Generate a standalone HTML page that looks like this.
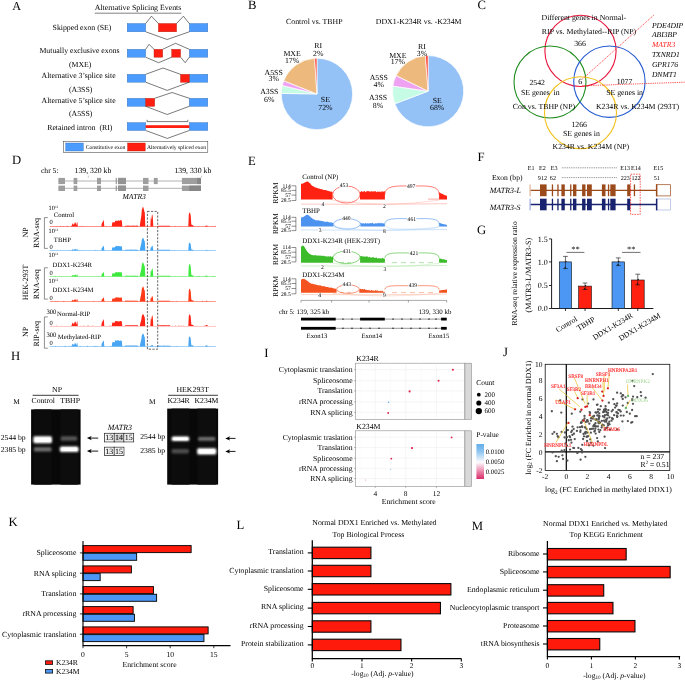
<!DOCTYPE html>
<html lang="en"><head><meta charset="utf-8"><title>Figure</title>
<style>
html,body{margin:0;padding:0;background:#fff;}
svg{display:block;will-change:transform;font-family:"Liberation Serif",serif;text-rendering:geometricPrecision;}
text{white-space:pre;}
</style></head><body>
<svg width="685" height="681" viewBox="0 0 685 681">
<rect x="0" y="0" width="685" height="681" fill="#fff"/>
<g id="panelA">
<text x="12.20" y="9.83" font-size="12.2">A</text>
<text x="138.00" y="9.59" font-size="7.85" text-anchor="middle">Alternative Splicing Events</text>
<polyline points="94.70,13.20 181.40,13.20" fill="none" stroke="#000" stroke-width="0.5"/>
<rect x="127.20" y="23.50" width="18.50" height="8.30" fill="#4c9bff" stroke="#3a6fb0" stroke-width="0.4"/>
<rect x="189.30" y="23.50" width="18.50" height="8.30" fill="#4c9bff" stroke="#3a6fb0" stroke-width="0.4"/>
<rect x="158.40" y="23.50" width="18.20" height="8.30" fill="#ff1e0f" stroke="#b02010" stroke-width="0.4"/>
<polyline points="145.70,23.50 151.50,16.20 158.40,23.50" fill="none" stroke="#222" stroke-width="0.6"/>
<polyline points="176.60,23.50 183.40,16.20 189.30,23.50" fill="none" stroke="#222" stroke-width="0.6"/>
<polyline points="145.70,31.80 167.20,39.50 189.30,31.80" fill="none" stroke="#222" stroke-width="0.6"/>
<text x="82.00" y="29.57" font-size="7.8" text-anchor="middle">Skipped exon (SE)</text>
<rect x="127.20" y="49.30" width="18.50" height="7.90" fill="#4c9bff" stroke="#3a6fb0" stroke-width="0.4"/>
<rect x="189.30" y="49.30" width="18.50" height="7.90" fill="#4c9bff" stroke="#3a6fb0" stroke-width="0.4"/>
<rect x="154.00" y="49.30" width="8.70" height="7.90" fill="#ff1e0f" stroke="#b02010" stroke-width="0.4"/>
<rect x="171.70" y="49.30" width="8.90" height="7.90" fill="#ff1e0f" stroke="#b02010" stroke-width="0.4"/>
<polyline points="145.70,49.30 149.10,44.30 154.00,49.30" fill="none" stroke="#222" stroke-width="0.6"/>
<polyline points="162.70,49.30 175.50,43.30 189.30,49.30" fill="none" stroke="#222" stroke-width="0.6"/>
<polyline points="145.70,57.20 158.60,62.70 171.70,57.20" fill="none" stroke="#222" stroke-width="0.6"/>
<polyline points="180.60,57.20 185.20,62.70 189.30,57.20" fill="none" stroke="#222" stroke-width="0.6"/>
<text x="79.50" y="53.27" font-size="7.8" text-anchor="middle">Mutually exclusive exons</text>
<text x="80.20" y="66.77" font-size="7.8" text-anchor="middle">(MXE)</text>
<rect x="127.20" y="74.30" width="18.50" height="7.90" fill="#4c9bff" stroke="#3a6fb0" stroke-width="0.4"/>
<rect x="189.30" y="74.30" width="18.50" height="7.90" fill="#4c9bff" stroke="#3a6fb0" stroke-width="0.4"/>
<rect x="180.50" y="74.30" width="8.80" height="7.90" fill="#ff1e0f" stroke="#b02010" stroke-width="0.4"/>
<polyline points="145.70,74.30 163.00,68.00 180.50,74.30" fill="none" stroke="#222" stroke-width="0.6"/>
<polyline points="145.70,82.20 167.20,90.40 189.30,82.20" fill="none" stroke="#222" stroke-width="0.6"/>
<text x="78.60" y="78.37" font-size="7.8" text-anchor="middle">Alternative 3’splice site</text>
<text x="80.70" y="91.87" font-size="7.8" text-anchor="middle">(A3SS)</text>
<rect x="127.20" y="98.30" width="18.50" height="8.00" fill="#4c9bff" stroke="#3a6fb0" stroke-width="0.4"/>
<rect x="189.30" y="98.30" width="18.50" height="8.00" fill="#4c9bff" stroke="#3a6fb0" stroke-width="0.4"/>
<rect x="145.70" y="98.30" width="9.00" height="8.00" fill="#ff1e0f" stroke="#b02010" stroke-width="0.4"/>
<polyline points="154.70,98.30 172.00,92.50 189.30,98.30" fill="none" stroke="#222" stroke-width="0.6"/>
<polyline points="145.70,106.30 167.20,114.50 189.30,106.30" fill="none" stroke="#222" stroke-width="0.6"/>
<text x="78.60" y="102.77" font-size="7.8" text-anchor="middle">Alternative 5’splice site</text>
<text x="80.70" y="115.57" font-size="7.8" text-anchor="middle">(A5SS)</text>
<rect x="127.20" y="122.60" width="18.50" height="7.90" fill="#4c9bff" stroke="#3a6fb0" stroke-width="0.4"/>
<rect x="189.30" y="122.60" width="18.50" height="7.90" fill="#4c9bff" stroke="#3a6fb0" stroke-width="0.4"/>
<rect x="145.70" y="125.20" width="43.60" height="2.80" fill="#ff1e0f"/>
<polyline points="147.10,119.80 147.10,121.60 187.80,121.60 187.80,119.80" fill="none" stroke="#222" stroke-width="0.6"/>
<polyline points="145.70,130.50 167.30,138.40 189.30,130.50" fill="none" stroke="#222" stroke-width="0.6"/>
<text x="79.80" y="129.77" font-size="7.8" text-anchor="middle" xml:space="preserve">Retained intron  (RI)</text>
<rect x="63.30" y="141.30" width="144.50" height="11.40" fill="#fff" stroke="#333" stroke-width="0.5"/>
<rect x="65.70" y="143.00" width="17.60" height="8.00" fill="#4c9bff" stroke="#3a6fb0" stroke-width="0.4"/>
<rect x="127.60" y="143.00" width="17.60" height="8.00" fill="#ff1e0f" stroke="#b02010" stroke-width="0.4"/>
<text x="85.70" y="149.05" font-size="5.6">Constitutive exon</text>
<text x="147.00" y="149.05" font-size="5.6">Alternatively spliced exon</text>
</g>
<g id="panelB">
<text x="248.00" y="8.89" font-size="12.7">B</text>
<text x="314.30" y="23.57" font-size="7.8" text-anchor="middle">Control vs. TBHP</text>
<text x="418.70" y="23.58" font-size="7.82" text-anchor="middle">DDX1-K234R vs. -K234M</text>
<path d="M316.95,93.95 L316.95,58.25 A35.7,35.7 0 1 1 281.25,93.45 Z" fill="#94c1f6" stroke="#fff" stroke-width="0.7"/>
<path d="M316.95,93.95 L281.25,93.45 A35.7,35.7 0 0 1 282.27,85.49 Z" fill="#c6fbe6" stroke="#fff" stroke-width="0.7"/>
<path d="M316.95,93.95 L282.27,85.49 A35.7,35.7 0 0 1 283.78,80.75 Z" fill="#efa2f1" stroke="#fff" stroke-width="0.7"/>
<path d="M316.95,93.95 L283.78,80.75 A35.7,35.7 0 0 1 314.65,58.32 Z" fill="#edb97c" stroke="#fff" stroke-width="0.7"/>
<path d="M316.95,93.95 L314.65,58.32 A35.7,35.7 0 0 1 316.95,58.25 Z" fill="#ff3a2e" stroke="#fff" stroke-width="0.7"/>
<path d="M428.10,91.20 L428.10,55.60 A35.6,35.6 0 1 1 394.80,103.78 Z" fill="#94c1f6" stroke="#fff" stroke-width="0.7"/>
<path d="M428.10,91.20 L394.80,103.78 A35.6,35.6 0 0 1 392.86,86.12 Z" fill="#c6fbe6" stroke="#fff" stroke-width="0.7"/>
<path d="M428.10,91.20 L392.86,86.12 A35.6,35.6 0 0 1 396.13,75.54 Z" fill="#efa2f1" stroke="#fff" stroke-width="0.7"/>
<path d="M428.10,91.20 L396.13,75.54 A35.6,35.6 0 0 1 425.43,55.70 Z" fill="#edb97c" stroke="#fff" stroke-width="0.7"/>
<path d="M428.10,91.20 L425.43,55.70 A35.6,35.6 0 0 1 428.10,55.60 Z" fill="#ff3a2e" stroke="#fff" stroke-width="0.7"/>
<text x="318.20" y="48.47" font-size="7.8" text-anchor="middle">RI</text>
<text x="318.20" y="55.67" font-size="7.8" text-anchor="middle">2%</text>
<text x="292.10" y="55.67" font-size="7.8" text-anchor="middle">MXE</text>
<text x="292.10" y="62.97" font-size="7.8" text-anchor="middle">17%</text>
<text x="273.70" y="75.27" font-size="7.8" text-anchor="middle">A5SS</text>
<text x="273.70" y="81.47" font-size="7.8" text-anchor="middle">3%</text>
<text x="269.30" y="93.67" font-size="7.8" text-anchor="middle">A3SS</text>
<text x="269.30" y="102.17" font-size="7.8" text-anchor="middle">6%</text>
<text x="325.40" y="101.97" font-size="7.8" text-anchor="middle">SE</text>
<text x="325.40" y="110.07" font-size="7.8" text-anchor="middle">72%</text>
<text x="422.00" y="49.27" font-size="7.8" text-anchor="middle">RI</text>
<text x="422.00" y="55.87" font-size="7.8" text-anchor="middle">3%</text>
<text x="397.80" y="57.77" font-size="7.8" text-anchor="middle">MXE</text>
<text x="397.80" y="64.27" font-size="7.8" text-anchor="middle">17%</text>
<text x="378.80" y="80.17" font-size="7.8" text-anchor="middle">A5SS</text>
<text x="378.80" y="86.67" font-size="7.8" text-anchor="middle">4%</text>
<text x="378.00" y="99.57" font-size="7.8" text-anchor="middle">A3SS</text>
<text x="378.00" y="108.37" font-size="7.8" text-anchor="middle">8%</text>
<text x="437.20" y="102.67" font-size="7.8" text-anchor="middle">SE</text>
<text x="437.20" y="110.07" font-size="7.8" text-anchor="middle">68%</text>
</g>
<g id="panelC">
<text x="477.50" y="8.79" font-size="12.7">C</text>
<circle cx="580.50" cy="50.90" r="35.60" fill="none" stroke="#e8163c" stroke-width="1.1"/>
<circle cx="550.00" cy="82.00" r="36.00" fill="none" stroke="#1e8c1e" stroke-width="1.1"/>
<circle cx="609.40" cy="81.70" r="35.70" fill="none" stroke="#2459d0" stroke-width="1.1"/>
<circle cx="580.50" cy="112.70" r="36.00" fill="none" stroke="#f2c21c" stroke-width="1.1"/>
<polyline points="582.30,79.10 654.30,14.70" fill="none" stroke="#ff2020" stroke-width="0.8" stroke-dasharray="1.2,1"/>
<polyline points="582.30,85.80 685.00,82.20" fill="none" stroke="#ff2020" stroke-width="0.8" stroke-dasharray="1.2,1"/>
<text x="583.80" y="20.37" font-size="7.8" text-anchor="middle">Different genes in Normal-</text>
<text x="589.00" y="33.87" font-size="7.8" text-anchor="middle">RIP vs. Methylated--RIP (NP)</text>
<text x="580.00" y="46.07" font-size="7.8" text-anchor="middle">366</text>
<text x="537.20" y="84.77" font-size="7.8" text-anchor="middle">2542</text>
<text x="540.30" y="94.57" font-size="7.8" text-anchor="middle" xml:space="preserve">SE genes  in</text>
<text x="544.00" y="108.97" font-size="7.8" text-anchor="middle">Con vs. TBHP (NP)</text>
<text x="580.20" y="84.07" font-size="7.8" text-anchor="middle">6</text>
<text x="624.60" y="84.07" font-size="7.8" text-anchor="middle">1077</text>
<text x="624.60" y="94.57" font-size="7.8" text-anchor="middle">SE genes in</text>
<text x="637.50" y="108.97" font-size="7.8" text-anchor="middle">K234R vs. K234M (293T)</text>
<text x="579.20" y="127.37" font-size="7.8" text-anchor="middle">1266</text>
<text x="581.40" y="135.97" font-size="7.8" text-anchor="middle">SE genes in</text>
<text x="590.90" y="149.07" font-size="7.8" text-anchor="middle">K234R vs. K234M (NP)</text>
<text x="651.90" y="27.61" font-size="7.6" font-style="italic">PDE4DIP</text>
<text x="651.90" y="37.11" font-size="7.6" font-style="italic">ABI3BP</text>
<text x="651.90" y="47.31" font-size="7.6" font-style="italic" fill="#ff2020">MATR3</text>
<text x="651.90" y="57.11" font-size="7.6" font-style="italic">TXNRD1</text>
<text x="651.90" y="66.91" font-size="7.6" font-style="italic">GPR176</text>
<text x="651.90" y="77.01" font-size="7.6" font-style="italic">DNMT1</text>
</g>
<g id="panelD">
<text x="12.00" y="164.19" font-size="12.7">D</text>
<text x="41.00" y="172.51" font-size="7.6">chr 5:</text>
<text x="74.50" y="172.56" font-size="7.77">139, 320 kb</text>
<text x="174.40" y="172.56" font-size="7.77">139, 330 kb</text>
<polyline points="88.30,175.60 88.30,177.60" fill="none" stroke="#888" stroke-width="0.5"/>
<polyline points="201.70,175.60 201.70,177.60" fill="none" stroke="#888" stroke-width="0.5"/>
<polyline points="58.40,181.00 201.00,181.00" fill="none" stroke="#b2b2b2" stroke-width="1.0"/>
<rect x="58.40" y="177.90" width="6.60" height="6.20" fill="#9e9e9e"/>
<rect x="73.60" y="177.90" width="3.70" height="6.20" fill="#9e9e9e"/>
<rect x="97.00" y="177.90" width="4.00" height="6.20" fill="#9e9e9e"/>
<rect x="118.00" y="177.90" width="7.90" height="6.20" fill="#9e9e9e"/>
<rect x="143.00" y="177.90" width="5.50" height="6.20" fill="#9e9e9e"/>
<rect x="153.80" y="177.90" width="3.90" height="6.20" fill="#9e9e9e"/>
<rect x="181.90" y="177.90" width="19.10" height="6.20" fill="#9e9e9e"/>
<rect x="115.70" y="177.90" width="1.10" height="6.20" fill="#8f8f8f"/>
<rect x="118.00" y="177.90" width="7.90" height="6.20" fill="#949494"/>
<rect x="197.10" y="177.90" width="3.90" height="6.20" fill="#878787"/>
<polyline points="58.40,188.30 201.00,188.30" fill="none" stroke="#b2b2b2" stroke-width="1.0"/>
<rect x="58.40" y="185.60" width="6.60" height="5.40" fill="#9e9e9e"/>
<rect x="73.60" y="185.60" width="3.70" height="5.40" fill="#9e9e9e"/>
<rect x="97.00" y="185.60" width="4.00" height="5.40" fill="#9e9e9e"/>
<rect x="118.00" y="185.60" width="7.90" height="5.40" fill="#9e9e9e"/>
<rect x="143.00" y="185.60" width="5.50" height="5.40" fill="#9e9e9e"/>
<rect x="181.90" y="185.60" width="19.10" height="5.40" fill="#9e9e9e"/>
<rect x="115.70" y="185.60" width="1.10" height="5.40" fill="#8f8f8f"/>
<rect x="118.00" y="185.60" width="7.90" height="5.40" fill="#949494"/>
<rect x="189.20" y="185.60" width="11.80" height="5.40" fill="#878787"/>
<text x="134.20" y="199.21" font-size="7.6" text-anchor="middle" font-style="italic">MATR3</text>
<path d="M49.8,226.75 L49.8,226.30 L50.3,226.30 L50.8,226.30 L51.3,226.30 L51.8,226.30 L52.3,226.30 L52.8,226.30 L53.3,226.30 L53.8,226.30 L54.3,226.30 L54.8,226.30 L55.3,226.30 L55.8,226.30 L56.3,226.09 L56.8,226.30 L57.3,226.30 L57.8,226.30 L58.3,226.30 L58.8,226.30 L59.3,226.30 L59.8,226.30 L60.3,225.85 L60.8,226.30 L61.3,226.30 L61.8,226.30 L62.3,226.30 L62.8,226.30 L63.3,225.98 L63.8,226.27 L64.3,226.30 L64.8,226.30 L65.3,226.30 L65.8,226.30 L66.3,226.30 L66.8,226.12 L67.3,225.86 L67.8,226.30 L68.3,226.30 L68.8,226.30 L69.3,226.30 L69.8,226.30 L70.3,226.30 L70.8,226.30 L71.3,226.30 L71.8,225.25 L72.3,223.94 L72.8,223.29 L73.3,223.69 L73.8,225.05 L74.3,223.91 L74.8,222.52 L75.3,222.22 L75.8,223.23 L76.3,225.18 L76.8,223.03 L77.3,221.67 L77.8,226.30 L78.3,226.30 L78.8,226.25 L79.3,226.30 L79.8,226.30 L80.3,226.30 L80.8,226.30 L81.3,225.82 L81.8,226.30 L82.3,226.30 L82.8,226.30 L83.3,226.04 L83.8,226.30 L84.3,226.30 L84.8,226.30 L85.3,226.30 L85.8,226.30 L86.3,226.30 L86.8,226.30 L87.3,226.30 L87.8,226.30 L88.3,226.30 L88.8,226.30 L89.3,226.30 L89.8,226.30 L90.3,226.30 L90.8,226.30 L91.3,226.30 L91.8,226.30 L92.3,226.30 L92.8,226.30 L93.3,226.30 L93.8,226.29 L94.3,226.30 L94.8,226.30 L95.3,226.30 L95.8,226.30 L96.3,226.30 L96.8,226.30 L97.3,226.30 L97.8,226.30 L98.3,226.30 L98.8,226.30 L99.3,226.30 L99.8,226.30 L100.3,226.30 L100.8,226.30 L101.3,226.30 L101.8,223.41 L102.3,222.56 L102.8,221.71 L103.3,220.85 L103.8,220.00 L104.3,226.30 L104.8,226.30 L105.3,226.30 L105.8,226.30 L106.3,225.97 L106.8,226.30 L107.3,226.30 L107.8,226.30 L108.3,226.30 L108.8,226.30 L109.3,226.30 L109.8,226.30 L110.3,226.30 L110.8,226.30 L111.3,226.30 L111.8,226.30 L112.3,222.34 L112.8,222.45 L113.3,222.12 L113.8,222.50 L114.3,222.20 L114.8,222.31 L115.3,220.89 L115.8,220.47 L116.3,220.91 L116.8,220.54 L117.3,220.88 L117.8,220.86 L118.3,220.54 L118.8,220.16 L119.3,220.83 L119.8,220.73 L120.3,220.35 L120.8,220.05 L121.3,220.40 L121.8,220.57 L122.3,226.30 L122.8,226.30 L123.3,226.30 L123.8,226.30 L124.3,226.30 L124.8,226.30 L125.3,225.63 L125.8,225.68 L126.3,225.64 L126.8,225.65 L127.3,225.61 L127.8,225.63 L128.3,225.67 L128.8,225.60 L129.3,225.69 L129.8,225.66 L130.3,225.63 L130.8,225.69 L131.3,225.65 L131.8,225.70 L132.3,225.63 L132.8,225.62 L133.3,225.64 L133.8,225.61 L134.3,225.67 L134.8,225.63 L135.3,225.64 L135.8,225.64 L136.3,225.66 L136.8,225.62 L137.3,225.61 L137.8,225.66 L138.3,226.30 L138.8,226.30 L139.3,226.30 L139.8,226.30 L140.3,221.90 L140.8,218.95 L141.3,216.00 L141.8,209.89 L142.3,208.40 L142.8,206.69 L143.3,207.36 L143.8,208.95 L144.3,211.32 L144.8,212.44 L145.3,226.30 L145.8,226.30 L146.3,226.30 L146.8,226.30 L147.3,225.81 L147.8,226.30 L148.3,226.30 L148.8,226.30 L149.3,226.30 L149.8,226.30 L150.3,226.30 L150.8,217.59 L151.3,219.69 L151.8,215.47 L152.3,214.27 L152.8,216.98 L153.3,226.30 L153.8,226.30 L154.3,226.30 L154.8,226.30 L155.3,226.30 L155.8,226.30 L156.3,226.30 L156.8,226.30 L157.3,226.30 L157.8,226.30 L158.3,225.73 L158.8,225.78 L159.3,225.73 L159.8,225.73 L160.3,225.70 L160.8,225.72 L161.3,225.76 L161.8,225.76 L162.3,225.73 L162.8,225.79 L163.3,225.75 L163.8,225.77 L164.3,225.78 L164.8,225.78 L165.3,225.72 L165.8,225.78 L166.3,225.77 L166.8,225.75 L167.3,225.71 L167.8,225.78 L168.3,225.75 L168.8,225.74 L169.3,225.71 L169.8,225.72 L170.3,226.30 L170.8,226.30 L171.3,226.30 L171.8,226.30 L172.3,226.30 L172.8,226.30 L173.3,226.30 L173.8,226.30 L174.3,226.08 L174.8,226.30 L175.3,225.90 L175.8,226.30 L176.3,226.30 L176.8,226.30 L177.3,226.30 L177.8,226.30 L178.3,226.30 L178.8,226.30 L179.3,226.30 L179.8,226.02 L180.3,226.30 L180.8,226.30 L181.3,226.30 L181.8,226.30 L182.3,226.30 L182.8,226.30 L183.3,226.30 L183.8,226.30 L184.3,226.30 L184.8,226.30 L185.3,226.30 L185.8,226.30 L186.3,226.30 L186.8,226.30 L187.3,226.30 L187.8,226.30 L188.3,226.30 L188.8,214.17 L189.3,212.76 L189.8,212.55 L190.3,213.78 L190.8,215.89 L191.3,224.62 L191.8,224.84 L192.3,225.07 L192.8,225.29 L193.3,225.52 L193.8,226.30 L194.3,226.30 L194.8,226.30 L195.3,226.30 L195.8,226.30 L196.3,226.30 L196.8,226.30 L197.3,226.30 L197.8,226.30 L198.3,226.18 L198.8,225.97 L199.3,226.30 L199.8,226.30 L200.3,226.30 L200.8,226.30 L201.3,226.30 L201.8,226.30 L202.3,226.30 L202.8,226.30 L203.3,226.30 L203.8,226.30 L204.3,226.30 L204.8,226.30 L205.3,226.09 L205.8,225.79 L206.3,225.57 L206.8,225.61 L207.3,225.85 L207.8,226.15 L208.3,226.30 L208.8,226.30 L209.3,226.30 L209.8,226.30 L210.3,226.30 L210.8,226.30 L211.3,226.30 L211.8,226.30 L212.3,226.30 L212.8,226.02 L213.3,226.30 L213.8,226.13 L214.3,226.30 L214.8,226.30 L215.3,225.81 L215.8,226.30 L216,226.75 Z" fill="#ff2416"/>
<path d="M49.8,250.75 L49.8,250.11 L50.3,250.30 L50.8,250.30 L51.3,250.30 L51.8,250.30 L52.3,250.17 L52.8,250.10 L53.3,250.29 L53.8,250.30 L54.3,250.30 L54.8,250.30 L55.3,250.30 L55.8,250.30 L56.3,250.30 L56.8,250.30 L57.3,250.30 L57.8,250.30 L58.3,250.30 L58.8,250.30 L59.3,250.30 L59.8,250.30 L60.3,250.30 L60.8,249.88 L61.3,250.30 L61.8,250.30 L62.3,250.30 L62.8,250.30 L63.3,250.30 L63.8,250.30 L64.3,250.30 L64.8,250.30 L65.3,250.30 L65.8,250.30 L66.3,250.30 L66.8,250.30 L67.3,250.30 L67.8,250.30 L68.3,250.30 L68.8,250.23 L69.3,250.30 L69.8,249.88 L70.3,250.30 L70.8,250.30 L71.3,250.30 L71.8,249.95 L72.3,249.51 L72.8,249.30 L73.3,249.43 L73.8,249.88 L74.3,249.50 L74.8,249.04 L75.3,248.94 L75.8,249.28 L76.3,249.93 L76.8,249.21 L77.3,248.76 L77.8,250.30 L78.3,250.30 L78.8,249.90 L79.3,250.30 L79.8,250.30 L80.3,250.30 L80.8,250.30 L81.3,249.93 L81.8,250.30 L82.3,250.17 L82.8,250.30 L83.3,250.30 L83.8,250.30 L84.3,250.30 L84.8,250.30 L85.3,250.30 L85.8,250.30 L86.3,250.30 L86.8,250.30 L87.3,250.30 L87.8,250.30 L88.3,250.23 L88.8,250.30 L89.3,250.30 L89.8,250.30 L90.3,250.30 L90.8,250.27 L91.3,250.30 L91.8,250.30 L92.3,250.30 L92.8,250.30 L93.3,250.30 L93.8,250.30 L94.3,250.30 L94.8,250.30 L95.3,249.85 L95.8,250.30 L96.3,250.30 L96.8,250.30 L97.3,250.07 L97.8,250.30 L98.3,250.30 L98.8,250.30 L99.3,250.30 L99.8,250.30 L100.3,250.30 L100.8,250.30 L101.3,250.30 L101.8,248.10 L102.3,247.45 L102.8,246.80 L103.3,246.15 L103.8,245.50 L104.3,250.30 L104.8,250.30 L105.3,250.30 L105.8,250.30 L106.3,250.30 L106.8,250.30 L107.3,250.30 L107.8,250.30 L108.3,250.30 L108.8,250.30 L109.3,250.30 L109.8,250.30 L110.3,250.30 L110.8,250.30 L111.3,250.30 L111.8,250.30 L112.3,247.16 L112.8,247.57 L113.3,247.50 L113.8,247.60 L114.3,247.25 L114.8,247.49 L115.3,246.39 L115.8,246.19 L116.3,245.86 L116.8,245.92 L117.3,246.30 L117.8,246.37 L118.3,245.85 L118.8,246.09 L119.3,246.00 L119.8,246.41 L120.3,246.44 L120.8,246.01 L121.3,246.19 L121.8,246.43 L122.3,250.30 L122.8,250.30 L123.3,250.30 L123.8,249.92 L124.3,250.30 L124.8,250.30 L125.3,249.65 L125.8,249.69 L126.3,249.67 L126.8,249.70 L127.3,249.68 L127.8,249.70 L128.3,249.63 L128.8,249.65 L129.3,249.69 L129.8,249.66 L130.3,249.61 L130.8,249.69 L131.3,249.62 L131.8,249.66 L132.3,249.65 L132.8,249.62 L133.3,249.66 L133.8,249.65 L134.3,249.63 L134.8,249.60 L135.3,249.67 L135.8,249.62 L136.3,249.63 L136.8,249.64 L137.3,249.66 L137.8,249.67 L138.3,250.30 L138.8,250.30 L139.3,250.30 L139.8,250.30 L140.3,247.50 L140.8,245.62 L141.3,243.75 L141.8,239.88 L142.3,238.63 L142.8,237.85 L143.3,238.35 L143.8,238.93 L144.3,240.79 L144.8,241.28 L145.3,250.30 L145.8,250.30 L146.3,250.30 L146.8,250.30 L147.3,250.30 L147.8,250.30 L148.3,250.30 L148.8,250.25 L149.3,250.30 L149.8,250.30 L150.3,250.30 L150.8,246.95 L151.3,247.70 L151.8,246.08 L152.3,245.55 L152.8,246.68 L153.3,250.30 L153.8,250.30 L154.3,250.30 L154.8,250.30 L155.3,250.30 L155.8,250.30 L156.3,250.30 L156.8,250.30 L157.3,250.30 L157.8,250.30 L158.3,249.79 L158.8,249.78 L159.3,249.78 L159.8,249.72 L160.3,249.77 L160.8,249.78 L161.3,249.78 L161.8,249.71 L162.3,249.71 L162.8,249.73 L163.3,249.76 L163.8,249.77 L164.3,249.76 L164.8,249.75 L165.3,249.78 L165.8,249.75 L166.3,249.77 L166.8,249.70 L167.3,249.70 L167.8,249.74 L168.3,249.77 L168.8,249.70 L169.3,249.76 L169.8,249.76 L170.3,250.30 L170.8,250.30 L171.3,250.30 L171.8,249.93 L172.3,250.30 L172.8,250.30 L173.3,250.30 L173.8,250.30 L174.3,249.84 L174.8,250.30 L175.3,250.30 L175.8,250.30 L176.3,250.30 L176.8,250.30 L177.3,250.30 L177.8,250.30 L178.3,250.30 L178.8,250.30 L179.3,250.30 L179.8,250.30 L180.3,250.30 L180.8,250.30 L181.3,250.30 L181.8,250.30 L182.3,250.30 L182.8,250.30 L183.3,250.30 L183.8,250.30 L184.3,250.30 L184.8,250.30 L185.3,250.30 L185.8,250.13 L186.3,250.18 L186.8,250.30 L187.3,250.30 L187.8,250.30 L188.3,250.30 L188.8,243.84 L189.3,242.82 L189.8,242.80 L190.3,243.54 L190.8,244.78 L191.3,249.39 L191.8,249.51 L192.3,249.63 L192.8,249.75 L193.3,249.88 L193.8,250.30 L194.3,250.30 L194.8,250.30 L195.3,250.30 L195.8,250.30 L196.3,250.16 L196.8,250.30 L197.3,250.30 L197.8,250.30 L198.3,250.30 L198.8,250.30 L199.3,250.30 L199.8,250.30 L200.3,250.30 L200.8,250.30 L201.3,250.30 L201.8,250.30 L202.3,250.30 L202.8,250.30 L203.3,250.28 L203.8,250.30 L204.3,250.30 L204.8,250.30 L205.3,250.17 L205.8,249.99 L206.3,249.86 L206.8,249.88 L207.3,250.00 L207.8,250.21 L208.3,250.30 L208.8,250.10 L209.3,250.30 L209.8,250.30 L210.3,250.30 L210.8,250.30 L211.3,250.30 L211.8,250.22 L212.3,250.30 L212.8,250.30 L213.3,250.30 L213.8,250.30 L214.3,250.30 L214.8,250.30 L215.3,250.30 L215.8,250.30 L216,250.75 Z" fill="#42a5f5"/>
<path d="M49.8,276.75 L49.8,276.30 L50.3,276.06 L50.8,276.30 L51.3,276.30 L51.8,276.30 L52.3,276.30 L52.8,276.30 L53.3,276.09 L53.8,276.30 L54.3,276.30 L54.8,276.28 L55.3,275.84 L55.8,276.30 L56.3,276.30 L56.8,276.30 L57.3,276.30 L57.8,276.30 L58.3,276.30 L58.8,276.30 L59.3,276.30 L59.8,276.30 L60.3,276.30 L60.8,276.30 L61.3,275.92 L61.8,276.30 L62.3,276.30 L62.8,276.30 L63.3,276.18 L63.8,276.30 L64.3,276.30 L64.8,276.30 L65.3,276.30 L65.8,276.30 L66.3,276.30 L66.8,276.30 L67.3,276.30 L67.8,276.30 L68.3,276.30 L68.8,276.30 L69.3,276.30 L69.8,276.30 L70.3,276.30 L70.8,276.30 L71.3,276.30 L71.8,275.86 L72.3,275.32 L72.8,275.04 L73.3,275.21 L73.8,275.78 L74.3,275.31 L74.8,274.72 L75.3,274.60 L75.8,275.02 L76.3,275.83 L76.8,274.94 L77.3,274.37 L77.8,276.30 L78.3,276.30 L78.8,276.20 L79.3,276.30 L79.8,276.30 L80.3,276.28 L80.8,276.30 L81.3,276.30 L81.8,276.30 L82.3,276.30 L82.8,276.30 L83.3,276.30 L83.8,276.25 L84.3,276.30 L84.8,276.30 L85.3,276.30 L85.8,276.30 L86.3,276.30 L86.8,276.30 L87.3,276.30 L87.8,276.30 L88.3,276.30 L88.8,276.30 L89.3,276.30 L89.8,276.30 L90.3,276.30 L90.8,276.30 L91.3,276.30 L91.8,276.30 L92.3,276.30 L92.8,276.30 L93.3,276.30 L93.8,276.30 L94.3,276.30 L94.8,276.30 L95.3,276.30 L95.8,276.30 L96.3,276.30 L96.8,276.30 L97.3,276.30 L97.8,276.30 L98.3,276.30 L98.8,276.30 L99.3,276.06 L99.8,276.30 L100.3,276.30 L100.8,276.30 L101.3,276.15 L101.8,274.24 L102.3,273.63 L102.8,273.02 L103.3,272.41 L103.8,271.80 L104.3,276.21 L104.8,276.30 L105.3,276.30 L105.8,276.30 L106.3,276.30 L106.8,276.30 L107.3,276.30 L107.8,276.30 L108.3,276.30 L108.8,276.30 L109.3,276.00 L109.8,276.30 L110.3,276.30 L110.8,276.30 L111.3,276.30 L111.8,276.30 L112.3,273.60 L112.8,273.25 L113.3,273.51 L113.8,273.19 L114.3,273.32 L114.8,273.48 L115.3,272.39 L115.8,272.31 L116.3,272.05 L116.8,272.00 L117.3,272.40 L117.8,272.43 L118.3,272.12 L118.8,272.08 L119.3,272.21 L119.8,272.32 L120.3,272.07 L120.8,272.47 L121.3,272.27 L121.8,272.16 L122.3,276.30 L122.8,276.30 L123.3,276.30 L123.8,276.30 L124.3,276.14 L124.8,276.30 L125.3,275.63 L125.8,275.65 L126.3,275.68 L126.8,275.60 L127.3,275.67 L127.8,275.62 L128.3,275.68 L128.8,275.68 L129.3,275.63 L129.8,275.67 L130.3,275.61 L130.8,275.65 L131.3,275.69 L131.8,275.68 L132.3,275.66 L132.8,275.64 L133.3,275.61 L133.8,275.69 L134.3,275.66 L134.8,275.68 L135.3,275.60 L135.8,275.69 L136.3,275.70 L136.8,275.70 L137.3,275.66 L137.8,275.61 L138.3,276.30 L138.8,276.30 L139.3,276.30 L139.8,276.30 L140.3,273.19 L140.8,271.10 L141.3,269.02 L141.8,264.71 L142.3,263.33 L142.8,262.42 L143.3,262.81 L143.8,263.99 L144.3,265.65 L144.8,266.24 L145.3,276.30 L145.8,276.25 L146.3,276.30 L146.8,276.30 L147.3,276.30 L147.8,276.22 L148.3,276.30 L148.8,276.30 L149.3,276.30 L149.8,276.30 L150.3,276.30 L150.8,270.38 L151.3,271.76 L151.8,269.07 L152.3,268.13 L152.8,269.86 L153.3,276.30 L153.8,276.30 L154.3,276.30 L154.8,276.30 L155.3,276.30 L155.8,276.30 L156.3,276.30 L156.8,276.30 L157.3,276.30 L157.8,276.30 L158.3,275.71 L158.8,275.72 L159.3,275.70 L159.8,275.71 L160.3,275.76 L160.8,275.77 L161.3,275.71 L161.8,275.72 L162.3,275.79 L162.8,275.73 L163.3,275.76 L163.8,275.76 L164.3,275.76 L164.8,275.77 L165.3,275.79 L165.8,275.76 L166.3,275.76 L166.8,275.70 L167.3,275.78 L167.8,275.70 L168.3,275.77 L168.8,275.76 L169.3,275.72 L169.8,275.72 L170.3,275.85 L170.8,276.30 L171.3,276.30 L171.8,276.30 L172.3,276.30 L172.8,276.30 L173.3,276.30 L173.8,276.02 L174.3,276.30 L174.8,276.30 L175.3,275.99 L175.8,276.30 L176.3,276.30 L176.8,276.30 L177.3,276.30 L177.8,276.30 L178.3,276.30 L178.8,276.05 L179.3,276.30 L179.8,276.30 L180.3,276.30 L180.8,276.30 L181.3,276.30 L181.8,276.30 L182.3,276.30 L182.8,275.84 L183.3,276.30 L183.8,276.30 L184.3,276.30 L184.8,276.30 L185.3,276.30 L185.8,276.30 L186.3,276.30 L186.8,276.30 L187.3,276.30 L187.8,276.30 L188.3,276.30 L188.8,265.74 L189.3,264.36 L189.8,263.96 L190.3,265.02 L190.8,267.36 L191.3,274.83 L191.8,275.02 L192.3,275.22 L192.8,275.42 L193.3,275.62 L193.8,276.30 L194.3,276.30 L194.8,276.30 L195.3,276.30 L195.8,276.30 L196.3,276.30 L196.8,276.30 L197.3,276.30 L197.8,276.02 L198.3,276.30 L198.8,275.88 L199.3,276.00 L199.8,276.30 L200.3,276.30 L200.8,276.30 L201.3,276.30 L201.8,276.30 L202.3,276.30 L202.8,276.30 L203.3,276.30 L203.8,276.30 L204.3,275.99 L204.8,276.30 L205.3,276.09 L205.8,275.79 L206.3,275.58 L206.8,275.59 L207.3,275.85 L207.8,276.15 L208.3,276.30 L208.8,276.30 L209.3,276.30 L209.8,276.30 L210.3,276.30 L210.8,276.30 L211.3,276.24 L211.8,276.30 L212.3,276.08 L212.8,276.30 L213.3,275.98 L213.8,275.93 L214.3,276.30 L214.8,276.30 L215.3,276.05 L215.8,276.30 L216,276.75 Z" fill="#3fea3f"/>
<path d="M49.8,301.75 L49.8,301.30 L50.3,301.30 L50.8,301.30 L51.3,300.98 L51.8,301.30 L52.3,301.30 L52.8,301.30 L53.3,301.30 L53.8,301.30 L54.3,301.30 L54.8,301.30 L55.3,301.30 L55.8,301.03 L56.3,301.30 L56.8,301.30 L57.3,300.91 L57.8,301.02 L58.3,301.30 L58.8,301.30 L59.3,301.30 L59.8,301.30 L60.3,301.30 L60.8,301.30 L61.3,301.30 L61.8,301.30 L62.3,301.30 L62.8,301.30 L63.3,300.86 L63.8,301.30 L64.3,301.30 L64.8,300.88 L65.3,301.30 L65.8,301.30 L66.3,301.30 L66.8,301.30 L67.3,301.30 L67.8,301.18 L68.3,301.13 L68.8,301.30 L69.3,301.30 L69.8,301.30 L70.3,301.30 L70.8,301.30 L71.3,301.30 L71.8,300.75 L72.3,300.07 L72.8,299.73 L73.3,299.94 L73.8,300.65 L74.3,300.06 L74.8,299.33 L75.3,299.18 L75.8,299.70 L76.3,300.72 L76.8,299.60 L77.3,298.89 L77.8,301.30 L78.3,301.30 L78.8,301.30 L79.3,301.30 L79.8,301.30 L80.3,301.30 L80.8,301.30 L81.3,301.30 L81.8,301.17 L82.3,301.30 L82.8,301.30 L83.3,301.30 L83.8,301.30 L84.3,301.30 L84.8,301.30 L85.3,301.30 L85.8,301.30 L86.3,301.30 L86.8,301.30 L87.3,301.30 L87.8,301.30 L88.3,301.30 L88.8,301.30 L89.3,301.30 L89.8,301.30 L90.3,301.30 L90.8,301.30 L91.3,301.30 L91.8,301.30 L92.3,301.30 L92.8,301.30 L93.3,301.30 L93.8,300.84 L94.3,301.30 L94.8,301.25 L95.3,301.30 L95.8,301.30 L96.3,301.30 L96.8,301.28 L97.3,301.30 L97.8,301.30 L98.3,301.30 L98.8,301.30 L99.3,301.00 L99.8,301.30 L100.3,301.30 L100.8,301.30 L101.3,301.30 L101.8,299.47 L102.3,298.93 L102.8,298.38 L103.3,297.84 L103.8,297.30 L104.3,300.87 L104.8,301.30 L105.3,301.30 L105.8,301.20 L106.3,301.28 L106.8,301.30 L107.3,301.30 L107.8,301.30 L108.3,301.30 L108.8,301.30 L109.3,301.30 L109.8,301.25 L110.3,301.30 L110.8,301.30 L111.3,301.30 L111.8,301.30 L112.3,298.52 L112.8,298.86 L113.3,298.56 L113.8,298.50 L114.3,298.61 L114.8,298.58 L115.3,297.78 L115.8,297.31 L116.3,297.60 L116.8,297.33 L117.3,297.35 L117.8,297.80 L118.3,297.43 L118.8,297.34 L119.3,297.86 L119.8,297.69 L120.3,297.45 L120.8,297.80 L121.3,297.36 L121.8,297.74 L122.3,301.17 L122.8,301.30 L123.3,301.30 L123.8,301.30 L124.3,301.30 L124.8,301.30 L125.3,300.61 L125.8,300.69 L126.3,300.60 L126.8,300.64 L127.3,300.66 L127.8,300.62 L128.3,300.68 L128.8,300.60 L129.3,300.64 L129.8,300.67 L130.3,300.62 L130.8,300.66 L131.3,300.69 L131.8,300.63 L132.3,300.70 L132.8,300.62 L133.3,300.68 L133.8,300.64 L134.3,300.60 L134.8,300.64 L135.3,300.64 L135.8,300.67 L136.3,300.70 L136.8,300.70 L137.3,300.69 L137.8,300.64 L138.3,301.30 L138.8,301.30 L139.3,301.30 L139.8,301.09 L140.3,297.97 L140.8,295.73 L141.3,293.50 L141.8,288.95 L142.3,287.68 L142.8,286.66 L143.3,286.58 L143.8,288.12 L144.3,289.88 L144.8,290.71 L145.3,301.30 L145.8,301.30 L146.3,301.30 L146.8,301.30 L147.3,301.30 L147.8,301.30 L148.3,301.30 L148.8,300.89 L149.3,301.30 L149.8,301.20 L150.3,301.30 L150.8,297.55 L151.3,298.42 L151.8,296.62 L152.3,296.12 L152.8,297.11 L153.3,301.30 L153.8,301.05 L154.3,301.30 L154.8,301.30 L155.3,301.30 L155.8,301.30 L156.3,301.30 L156.8,301.30 L157.3,301.30 L157.8,301.30 L158.3,300.75 L158.8,300.74 L159.3,300.71 L159.8,300.78 L160.3,300.77 L160.8,300.73 L161.3,300.79 L161.8,300.79 L162.3,300.76 L162.8,300.78 L163.3,300.76 L163.8,300.77 L164.3,300.74 L164.8,300.74 L165.3,300.77 L165.8,300.73 L166.3,300.75 L166.8,300.78 L167.3,300.71 L167.8,300.77 L168.3,300.78 L168.8,300.78 L169.3,300.73 L169.8,300.71 L170.3,301.30 L170.8,301.30 L171.3,301.30 L171.8,301.30 L172.3,300.98 L172.8,300.91 L173.3,301.30 L173.8,301.30 L174.3,301.30 L174.8,301.30 L175.3,301.30 L175.8,301.30 L176.3,301.30 L176.8,300.86 L177.3,301.20 L177.8,301.30 L178.3,301.30 L178.8,301.30 L179.3,301.30 L179.8,301.30 L180.3,301.30 L180.8,301.30 L181.3,301.30 L181.8,301.30 L182.3,301.30 L182.8,301.30 L183.3,301.30 L183.8,301.30 L184.3,301.30 L184.8,301.30 L185.3,301.30 L185.8,301.30 L186.3,301.30 L186.8,301.30 L187.3,301.30 L187.8,301.30 L188.3,301.30 L188.8,290.37 L189.3,288.75 L189.8,288.93 L190.3,289.81 L190.8,292.18 L191.3,299.79 L191.8,299.99 L192.3,300.20 L192.8,300.40 L193.3,300.60 L193.8,301.30 L194.3,301.30 L194.8,301.30 L195.3,301.30 L195.8,301.30 L196.3,301.30 L196.8,301.30 L197.3,301.30 L197.8,301.30 L198.3,301.30 L198.8,301.30 L199.3,301.30 L199.8,301.30 L200.3,301.30 L200.8,301.30 L201.3,301.30 L201.8,301.30 L202.3,300.82 L202.8,301.11 L203.3,301.30 L203.8,301.30 L204.3,301.30 L204.8,301.30 L205.3,301.14 L205.8,300.91 L206.3,300.77 L206.8,300.76 L207.3,300.95 L207.8,301.19 L208.3,301.30 L208.8,301.30 L209.3,301.20 L209.8,301.30 L210.3,301.10 L210.8,301.30 L211.3,301.30 L211.8,301.30 L212.3,301.30 L212.8,301.30 L213.3,301.30 L213.8,301.30 L214.3,301.30 L214.8,301.30 L215.3,301.30 L215.8,301.30 L216,301.75 Z" fill="#ff3a18"/>
<path d="M49.8,326.35 L49.8,325.90 L50.3,325.90 L50.8,325.90 L51.3,325.54 L51.8,325.90 L52.3,325.90 L52.8,325.90 L53.3,325.90 L53.8,325.90 L54.3,325.90 L54.8,325.90 L55.3,325.90 L55.8,325.90 L56.3,325.90 L56.8,325.49 L57.3,325.90 L57.8,325.90 L58.3,325.90 L58.8,325.90 L59.3,325.90 L59.8,325.89 L60.3,325.90 L60.8,325.90 L61.3,325.90 L61.8,325.83 L62.3,325.90 L62.8,325.90 L63.3,325.90 L63.8,325.90 L64.3,325.90 L64.8,325.90 L65.3,325.90 L65.8,325.90 L66.3,325.90 L66.8,325.90 L67.3,325.90 L67.8,325.90 L68.3,325.90 L68.8,325.90 L69.3,325.90 L69.8,325.90 L70.3,325.90 L70.8,325.90 L71.3,325.90 L71.8,324.72 L72.3,323.25 L72.8,322.51 L73.3,322.96 L73.8,324.49 L74.3,323.21 L74.8,321.64 L75.3,321.31 L75.8,322.45 L76.3,324.64 L76.8,322.22 L77.3,320.69 L77.8,325.90 L78.3,325.90 L78.8,325.90 L79.3,325.90 L79.8,325.90 L80.3,325.90 L80.8,325.67 L81.3,325.90 L81.8,325.90 L82.3,325.90 L82.8,325.90 L83.3,325.90 L83.8,325.48 L84.3,325.90 L84.8,325.90 L85.3,325.90 L85.8,325.90 L86.3,325.90 L86.8,325.90 L87.3,325.90 L87.8,325.58 L88.3,325.90 L88.8,325.60 L89.3,325.90 L89.8,325.90 L90.3,325.90 L90.8,325.90 L91.3,325.90 L91.8,325.90 L92.3,325.90 L92.8,325.54 L93.3,325.90 L93.8,325.90 L94.3,325.90 L94.8,325.90 L95.3,325.90 L95.8,325.90 L96.3,325.90 L96.8,325.90 L97.3,325.90 L97.8,325.90 L98.3,325.90 L98.8,325.90 L99.3,325.90 L99.8,325.90 L100.3,325.90 L100.8,325.90 L101.3,325.90 L101.8,322.74 L102.3,321.80 L102.8,320.87 L103.3,319.93 L103.8,319.00 L104.3,325.90 L104.8,325.90 L105.3,325.90 L105.8,325.90 L106.3,325.90 L106.8,325.90 L107.3,325.90 L107.8,325.90 L108.3,325.90 L108.8,325.90 L109.3,325.54 L109.8,325.90 L110.3,325.90 L110.8,325.75 L111.3,325.81 L111.8,325.90 L112.3,322.62 L112.8,322.53 L113.3,322.70 L113.8,322.81 L114.3,322.55 L114.8,322.46 L115.3,321.07 L115.8,321.12 L116.3,321.01 L116.8,321.14 L117.3,321.17 L117.8,321.31 L118.3,321.42 L118.8,321.18 L119.3,321.58 L119.8,321.34 L120.3,321.06 L120.8,321.12 L121.3,321.18 L121.8,321.46 L122.3,325.90 L122.8,325.90 L123.3,325.90 L123.8,325.90 L124.3,325.90 L124.8,325.90 L125.3,325.24 L125.8,325.22 L126.3,325.25 L126.8,325.26 L127.3,325.21 L127.8,325.28 L128.3,325.23 L128.8,325.26 L129.3,325.22 L129.8,325.29 L130.3,325.20 L130.8,325.27 L131.3,325.30 L131.8,325.28 L132.3,325.26 L132.8,325.30 L133.3,325.26 L133.8,325.26 L134.3,325.23 L134.8,325.27 L135.3,325.28 L135.8,325.28 L136.3,325.23 L136.8,325.21 L137.3,325.25 L137.8,325.28 L138.3,325.90 L138.8,325.90 L139.3,325.90 L139.8,325.90 L140.3,323.23 L140.8,321.44 L141.3,319.66 L141.8,316.18 L142.3,314.87 L142.8,314.13 L143.3,314.37 L143.8,315.15 L144.3,316.52 L144.8,317.54 L145.3,325.90 L145.8,325.90 L146.3,325.90 L146.8,325.90 L147.3,325.81 L147.8,325.51 L148.3,325.90 L148.8,325.90 L149.3,325.90 L149.8,325.90 L150.3,325.90 L150.8,318.16 L151.3,319.84 L151.8,316.29 L152.3,315.21 L152.8,317.36 L153.3,325.90 L153.8,325.90 L154.3,325.90 L154.8,325.90 L155.3,325.90 L155.8,325.90 L156.3,325.90 L156.8,325.90 L157.3,325.62 L157.8,325.84 L158.3,325.32 L158.8,325.35 L159.3,325.37 L159.8,325.38 L160.3,325.32 L160.8,325.32 L161.3,325.33 L161.8,325.35 L162.3,325.34 L162.8,325.37 L163.3,325.30 L163.8,325.36 L164.3,325.33 L164.8,325.32 L165.3,325.32 L165.8,325.35 L166.3,325.36 L166.8,325.34 L167.3,325.38 L167.8,325.31 L168.3,325.36 L168.8,325.31 L169.3,325.37 L169.8,325.36 L170.3,325.90 L170.8,325.90 L171.3,325.90 L171.8,325.90 L172.3,325.71 L172.8,325.90 L173.3,325.90 L173.8,325.90 L174.3,325.90 L174.8,325.90 L175.3,325.58 L175.8,325.90 L176.3,325.90 L176.8,325.90 L177.3,325.90 L177.8,325.90 L178.3,325.90 L178.8,325.47 L179.3,325.90 L179.8,325.54 L180.3,325.90 L180.8,325.90 L181.3,325.90 L181.8,325.51 L182.3,325.90 L182.8,325.90 L183.3,325.90 L183.8,325.59 L184.3,325.90 L184.8,325.90 L185.3,325.90 L185.8,325.90 L186.3,325.90 L186.8,325.90 L187.3,325.89 L187.8,325.90 L188.3,325.90 L188.8,316.00 L189.3,314.39 L189.8,314.39 L190.3,315.22 L190.8,317.13 L191.3,324.50 L191.8,324.69 L192.3,324.87 L192.8,325.06 L193.3,325.25 L193.8,325.74 L194.3,325.90 L194.8,325.90 L195.3,325.90 L195.8,325.90 L196.3,325.72 L196.8,325.90 L197.3,325.90 L197.8,325.90 L198.3,325.90 L198.8,325.90 L199.3,325.90 L199.8,325.90 L200.3,325.90 L200.8,325.90 L201.3,325.90 L201.8,325.90 L202.3,325.90 L202.8,325.90 L203.3,325.90 L203.8,325.90 L204.3,325.41 L204.8,325.90 L205.3,325.66 L205.8,325.34 L206.3,325.08 L206.8,325.12 L207.3,325.37 L207.8,325.73 L208.3,325.90 L208.8,325.90 L209.3,325.90 L209.8,325.90 L210.3,325.90 L210.8,325.90 L211.3,325.90 L211.8,325.90 L212.3,325.90 L212.8,325.90 L213.3,325.90 L213.8,325.90 L214.3,325.90 L214.8,325.90 L215.3,325.90 L215.8,325.77 L216,326.35 Z" fill="#ff2416"/>
<path d="M49.8,346.65 L49.8,346.20 L50.3,346.20 L50.8,346.20 L51.3,346.20 L51.8,346.20 L52.3,346.20 L52.8,346.07 L53.3,346.20 L53.8,346.20 L54.3,346.20 L54.8,346.20 L55.3,345.81 L55.8,346.20 L56.3,346.20 L56.8,346.20 L57.3,346.13 L57.8,346.20 L58.3,346.20 L58.8,346.20 L59.3,346.20 L59.8,346.20 L60.3,346.20 L60.8,346.04 L61.3,346.20 L61.8,346.20 L62.3,346.20 L62.8,346.20 L63.3,346.20 L63.8,346.20 L64.3,346.20 L64.8,345.84 L65.3,346.20 L65.8,345.74 L66.3,346.20 L66.8,346.20 L67.3,346.20 L67.8,346.20 L68.3,346.20 L68.8,346.20 L69.3,345.74 L69.8,346.20 L70.3,346.20 L70.8,346.20 L71.3,346.20 L71.8,345.35 L72.3,344.28 L72.8,343.75 L73.3,344.08 L73.8,345.18 L74.3,344.26 L74.8,343.13 L75.3,342.89 L75.8,343.71 L76.3,345.29 L76.8,343.55 L77.3,342.44 L77.8,346.20 L78.3,346.20 L78.8,346.20 L79.3,346.20 L79.8,346.20 L80.3,345.84 L80.8,346.20 L81.3,346.20 L81.8,346.20 L82.3,346.20 L82.8,346.20 L83.3,346.20 L83.8,346.20 L84.3,346.20 L84.8,346.20 L85.3,346.20 L85.8,346.20 L86.3,346.20 L86.8,346.20 L87.3,345.71 L87.8,345.75 L88.3,346.20 L88.8,346.20 L89.3,346.20 L89.8,346.20 L90.3,346.20 L90.8,346.20 L91.3,346.20 L91.8,346.20 L92.3,346.20 L92.8,346.20 L93.3,346.06 L93.8,346.20 L94.3,345.84 L94.8,346.20 L95.3,346.20 L95.8,345.80 L96.3,346.20 L96.8,346.20 L97.3,345.78 L97.8,346.20 L98.3,346.20 L98.8,346.20 L99.3,346.20 L99.8,346.20 L100.3,346.20 L100.8,346.20 L101.3,346.20 L101.8,343.45 L102.3,342.64 L102.8,341.82 L103.3,341.01 L103.8,340.20 L104.3,346.20 L104.8,346.20 L105.3,346.20 L105.8,346.16 L106.3,346.20 L106.8,346.20 L107.3,346.20 L107.8,346.20 L108.3,346.20 L108.8,346.20 L109.3,346.20 L109.8,346.20 L110.3,346.20 L110.8,345.83 L111.3,346.20 L111.8,346.20 L112.3,342.36 L112.8,342.26 L113.3,342.12 L113.8,342.07 L114.3,342.60 L114.8,342.11 L115.3,340.37 L115.8,340.32 L116.3,340.59 L116.8,340.85 L117.3,340.33 L117.8,340.37 L118.3,340.48 L118.8,340.28 L119.3,340.79 L119.8,341.02 L120.3,340.60 L120.8,340.38 L121.3,340.92 L121.8,340.42 L122.3,345.79 L122.8,346.20 L123.3,346.20 L123.8,346.20 L124.3,346.20 L124.8,345.74 L125.3,345.53 L125.8,345.57 L126.3,345.55 L126.8,345.56 L127.3,345.55 L127.8,345.59 L128.3,345.60 L128.8,345.50 L129.3,345.57 L129.8,345.59 L130.3,345.54 L130.8,345.52 L131.3,345.59 L131.8,345.54 L132.3,345.57 L132.8,345.55 L133.3,345.60 L133.8,345.60 L134.3,345.50 L134.8,345.51 L135.3,345.55 L135.8,345.55 L136.3,345.58 L136.8,345.52 L137.3,345.56 L137.8,345.51 L138.3,346.20 L138.8,346.20 L139.3,346.20 L139.8,346.20 L140.3,343.33 L140.8,341.41 L141.3,339.49 L141.8,335.53 L142.3,334.45 L142.8,333.55 L143.3,333.67 L143.8,334.75 L144.3,336.41 L144.8,337.19 L145.3,346.20 L145.8,346.20 L146.3,346.20 L146.8,346.20 L147.3,346.20 L147.8,345.94 L148.3,346.20 L148.8,346.20 L149.3,346.20 L149.8,346.20 L150.3,346.20 L150.8,345.35 L151.3,345.54 L151.8,345.15 L152.3,345.05 L152.8,345.27 L153.3,346.20 L153.8,346.20 L154.3,346.20 L154.8,346.20 L155.3,346.20 L155.8,345.76 L156.3,346.20 L156.8,346.20 L157.3,346.20 L157.8,346.20 L158.3,345.62 L158.8,345.62 L159.3,345.60 L159.8,345.67 L160.3,345.69 L160.8,345.67 L161.3,345.67 L161.8,345.68 L162.3,345.69 L162.8,345.64 L163.3,345.61 L163.8,345.65 L164.3,345.60 L164.8,345.61 L165.3,345.68 L165.8,345.64 L166.3,345.65 L166.8,345.68 L167.3,345.60 L167.8,345.67 L168.3,345.64 L168.8,345.63 L169.3,345.60 L169.8,345.63 L170.3,346.20 L170.8,345.72 L171.3,346.20 L171.8,346.20 L172.3,346.07 L172.8,346.20 L173.3,346.15 L173.8,346.20 L174.3,346.20 L174.8,345.90 L175.3,346.20 L175.8,346.20 L176.3,346.20 L176.8,345.77 L177.3,346.20 L177.8,346.14 L178.3,346.20 L178.8,346.20 L179.3,346.20 L179.8,346.20 L180.3,346.20 L180.8,346.20 L181.3,346.20 L181.8,346.20 L182.3,346.20 L182.8,346.20 L183.3,346.20 L183.8,346.20 L184.3,346.20 L184.8,346.20 L185.3,346.20 L185.8,346.20 L186.3,346.20 L186.8,346.20 L187.3,346.20 L187.8,346.20 L188.3,346.20 L188.8,337.78 L189.3,336.83 L189.8,336.54 L190.3,337.34 L190.8,338.98 L191.3,345.04 L191.8,345.20 L192.3,345.35 L192.8,345.51 L193.3,345.66 L193.8,346.20 L194.3,346.20 L194.8,346.20 L195.3,346.20 L195.8,346.20 L196.3,346.20 L196.8,346.20 L197.3,346.20 L197.8,346.20 L198.3,345.94 L198.8,346.20 L199.3,346.20 L199.8,346.20 L200.3,346.20 L200.8,346.20 L201.3,346.20 L201.8,346.20 L202.3,345.98 L202.8,346.20 L203.3,346.13 L203.8,346.20 L204.3,346.20 L204.8,346.20 L205.3,345.93 L205.8,345.55 L206.3,345.29 L206.8,345.36 L207.3,345.64 L207.8,346.02 L208.3,346.20 L208.8,346.20 L209.3,346.20 L209.8,346.20 L210.3,345.88 L210.8,346.20 L211.3,346.20 L211.8,346.20 L212.3,346.20 L212.8,346.20 L213.3,346.20 L213.8,346.20 L214.3,346.20 L214.8,346.20 L215.3,346.20 L215.8,346.20 L216,346.65 Z" fill="#4aa6f2"/>
<rect x="147.40" y="211.40" width="10.30" height="137.80" fill="none" stroke="#222" stroke-width="0.7" stroke-dasharray="2.2,1.4"/>
<text x="48.6" y="209.88" font-size="6.3">10<tspan font-size="3.6" dy="-2.2">11</tspan></text>
<text x="53.80" y="217.41" font-size="6.7">Control</text>
<text x="49.60" y="223.95" font-size="6.5">0</text>
<text x="48.6" y="233.38" font-size="6.3">10<tspan font-size="3.6" dy="-2.2">11</tspan></text>
<text x="53.80" y="241.91" font-size="6.7">TBHP</text>
<text x="49.60" y="248.55" font-size="6.5">0</text>
<text x="48.6" y="257.18" font-size="6.3">10<tspan font-size="3.6" dy="-2.2">11</tspan></text>
<text x="52.60" y="267.11" font-size="6.7">DDX1-K234R</text>
<text x="49.60" y="275.14" font-size="6.5">0</text>
<text x="48.6" y="282.78" font-size="6.3">10<tspan font-size="3.6" dy="-2.2">11</tspan></text>
<text x="52.60" y="292.41" font-size="6.7">DDX1-K234M</text>
<text x="49.60" y="300.04" font-size="6.5">0</text>
<text x="46.40" y="314.11" font-size="6.7">300</text>
<text x="57.10" y="316.21" font-size="6.7">Normal-RIP</text>
<text x="49.60" y="324.54" font-size="6.5">0</text>
<text x="46.40" y="336.71" font-size="6.7">300</text>
<text x="57.80" y="338.51" font-size="6.7">Methylated-RIP</text>
<text x="49.60" y="344.75" font-size="6.5">0</text>
<polyline points="47.80,217.60 44.40,217.60 44.40,248.40 47.80,248.40" fill="none" stroke="#333" stroke-width="0.55"/>
<polyline points="47.80,267.80 44.40,267.80 44.40,299.10 47.80,299.10" fill="none" stroke="#333" stroke-width="0.55"/>
<polyline points="47.80,316.90 44.40,316.90 44.40,348.20 47.80,348.20" fill="none" stroke="#333" stroke-width="0.55"/>
<text x="25.20" y="234.92" font-size="7.95" text-anchor="middle" transform="rotate(-90 25.20 232.30)">NP</text>
<text x="36.80" y="235.62" font-size="7.95" text-anchor="middle" transform="rotate(-90 36.80 233.00)">RNA-seq</text>
<text x="25.20" y="285.02" font-size="7.95" text-anchor="middle" transform="rotate(-90 25.20 282.40)">HEK-293T</text>
<text x="36.80" y="286.82" font-size="7.95" text-anchor="middle" transform="rotate(-90 36.80 284.20)">RNA-seq</text>
<text x="25.20" y="334.62" font-size="7.95" text-anchor="middle" transform="rotate(-90 25.20 332.00)">NP</text>
<text x="36.80" y="336.42" font-size="7.95" text-anchor="middle" transform="rotate(-90 36.80 333.80)">RIP-seq</text>
</g>
<g id="panelE">
<text x="248.00" y="165.39" font-size="12.7">E</text>
<text x="302.20" y="179.18" font-size="6.9">Control (NP)</text>
<path d="M301.00,199.60 L301.00,183.70 L301.61,183.75 L302.22,183.86 L302.82,183.48 L303.43,183.27 L304.04,183.01 L304.65,182.47 L305.25,182.28 L305.86,182.02 L306.47,181.86 L307.08,181.40 L307.68,181.56 L308.29,181.67 L308.90,182.42 L309.51,182.88 L310.12,183.17 L310.72,184.30 L311.33,184.94 L311.94,185.40 L312.55,185.93 L313.15,186.17 L313.76,186.50 L314.37,187.08 L314.98,187.13 L315.58,187.42 L316.19,187.65 L316.80,187.73 L317.41,188.12 L318.02,188.27 L318.62,188.63 L319.23,188.62 L319.84,188.84 L320.45,188.92 L321.05,189.16 L321.66,189.21 L322.27,189.27 L322.88,189.79 L323.48,189.94 L324.09,190.02 L324.70,190.10 L325.31,190.06 L325.92,190.17 L326.52,190.36 L327.13,190.40 L327.74,190.90 L328.35,190.87 L328.95,191.25 L329.56,191.17 L330.17,191.61 L330.78,191.71 L331.38,191.44 L331.99,191.70 L332.60,192.21 L332.60,199.60 Z" fill="#ff2212"/>
<path d="M360.00,199.60 L360.00,191.55 L360.61,192.37 L361.21,191.44 L361.82,190.92 L362.43,191.81 L363.04,192.05 L363.64,191.23 L364.25,190.94 L364.86,191.33 L365.47,192.34 L366.07,192.01 L366.68,190.99 L367.29,191.19 L367.90,190.96 L368.50,190.90 L369.11,192.08 L369.72,191.08 L370.32,191.69 L370.93,191.52 L371.54,191.11 L372.15,191.97 L372.75,191.01 L373.36,191.83 L373.97,190.99 L374.58,191.47 L375.18,191.14 L375.79,191.23 L376.40,192.35 L377.00,192.09 L377.61,191.29 L378.22,192.22 L378.83,191.14 L379.43,191.43 L380.04,192.17 L380.65,191.83 L381.26,190.96 L381.86,192.38 L382.47,191.14 L383.08,191.21 L383.69,192.04 L384.29,191.33 L384.90,191.27 L384.90,199.60 Z" fill="#ff2212"/>
<path d="M439.10,199.60 L439.10,192.29 L439.71,192.56 L440.32,193.08 L440.92,193.18 L441.53,193.63 L442.14,193.78 L442.75,194.09 L443.35,194.61 L443.96,194.65 L444.57,194.96 L445.18,195.38 L445.78,195.30 L446.39,195.56 L447.00,196.20 L447.00,199.60 Z" fill="#ff2212"/>
<ellipse cx="346.30" cy="194.50" rx="13.70" ry="8.50" fill="#fff" stroke="#ff2212" stroke-width="0.6"/>
<path d="M384.9,194.60 C384.9,184.80 398,186.00 412,186.00 C426,186.00 439.1,184.80 439.1,194.60" fill="none" stroke="#ff2212" stroke-width="0.6"/>
<polyline points="428.00,199.10 439.10,199.10" fill="none" stroke="#ff2212" stroke-width="0.5" opacity="0.8"/>
<path d="M301,204.10 Q374,204.90 447,203.70" fill="none" stroke="#ff9a90" stroke-width="0.55"/>
<path d="M332.6,200.20 Q386,208.20 439.1,200.20" fill="none" stroke="#ff9a90" stroke-width="0.4"/>
<rect x="339.40" y="183.30" width="9.20" height="4.40" fill="#fff"/>
<text x="344.00" y="187.35" font-size="5.6" text-anchor="middle">453</text>
<rect x="406.50" y="184.20" width="9.20" height="4.40" fill="#fff"/>
<text x="411.10" y="188.25" font-size="5.6" text-anchor="middle">497</text>
<rect x="321.20" y="202.00" width="3.60" height="4.40" fill="#fff"/>
<text x="323.00" y="206.05" font-size="5.6" text-anchor="middle">4</text>
<rect x="382.70" y="203.80" width="3.60" height="4.40" fill="#fff"/>
<text x="384.50" y="207.85" font-size="5.6" text-anchor="middle">2</text>
<polyline points="295.90,185.80 295.90,200.50" fill="none" stroke="#333" stroke-width="0.55"/>
<polyline points="291.50,185.80 295.90,185.80" fill="none" stroke="#333" stroke-width="0.55"/>
<text x="290.80" y="187.65" font-size="5.6" text-anchor="end">114</text>
<polyline points="291.50,190.40 295.90,190.40" fill="none" stroke="#333" stroke-width="0.55"/>
<text x="290.80" y="192.25" font-size="5.6" text-anchor="end">85.5</text>
<polyline points="291.50,195.10 295.90,195.10" fill="none" stroke="#333" stroke-width="0.55"/>
<text x="290.80" y="196.95" font-size="5.6" text-anchor="end">57</text>
<polyline points="291.50,200.50 295.90,200.50" fill="none" stroke="#333" stroke-width="0.55"/>
<text x="290.80" y="202.35" font-size="5.6" text-anchor="end">28.5</text>
<text x="275.40" y="195.44" font-size="7.4" text-anchor="middle" transform="rotate(-90 275.40 193.00)">RPKM</text>
<text x="302.20" y="213.48" font-size="6.9">TBHP</text>
<path d="M301.00,226.50 L301.00,217.72 L301.60,217.34 L302.20,217.16 L302.81,217.20 L303.41,217.00 L304.01,216.27 L304.61,216.25 L305.21,215.82 L305.81,215.34 L306.42,214.99 L307.02,214.71 L307.62,214.71 L308.22,215.37 L308.82,215.35 L309.43,216.05 L310.03,216.38 L310.63,217.24 L311.23,217.70 L311.83,218.08 L312.44,218.49 L313.04,219.16 L313.64,219.16 L314.24,219.50 L314.84,219.87 L315.44,220.19 L316.05,220.21 L316.65,220.16 L317.25,220.59 L317.85,220.34 L318.45,220.34 L319.06,220.56 L319.66,220.74 L320.26,220.64 L320.86,220.79 L321.46,220.98 L322.06,221.18 L322.67,221.05 L323.27,221.26 L323.87,221.61 L324.47,221.75 L325.07,221.68 L325.68,221.79 L326.28,221.83 L326.88,221.70 L327.48,221.74 L328.08,221.83 L328.69,222.36 L329.29,222.35 L329.89,222.58 L330.49,222.20 L331.09,222.60 L331.69,222.61 L332.30,222.83 L332.90,222.72 L333.50,223.15 L333.50,226.50 Z" fill="#4c93f0"/>
<path d="M360.40,226.50 L360.40,222.22 L361.01,222.98 L361.62,223.30 L362.24,223.57 L362.85,223.32 L363.46,223.28 L364.07,223.43 L364.69,223.63 L365.30,222.74 L365.91,223.29 L366.52,223.64 L367.14,223.60 L367.75,222.89 L368.36,223.49 L368.97,223.62 L369.59,223.17 L370.20,223.26 L370.81,222.88 L371.42,223.21 L372.04,223.26 L372.65,222.43 L373.26,223.33 L373.88,223.91 L374.49,223.74 L375.10,223.51 L375.71,222.97 L376.32,223.54 L376.94,223.30 L377.55,223.08 L378.16,223.73 L378.77,222.53 L379.39,223.61 L380.00,222.47 L380.61,223.39 L381.22,223.21 L381.84,222.82 L382.45,223.58 L383.06,223.27 L383.67,223.46 L384.29,223.96 L384.90,222.91 L384.90,226.50 Z" fill="#4c93f0"/>
<path d="M439.10,226.50 L439.10,222.66 L439.71,222.96 L440.32,223.31 L440.92,223.24 L441.53,223.38 L442.14,223.91 L442.75,223.95 L443.35,224.00 L443.96,224.39 L444.57,224.27 L445.18,224.60 L445.78,224.53 L446.39,224.80 L447.00,225.15 L447.00,226.50 Z" fill="#4c93f0"/>
<ellipse cx="346.95" cy="223.95" rx="13.45" ry="5.25" fill="#fff" stroke="#4c93f0" stroke-width="0.6"/>
<path d="M384.9,223.85 C384.9,217.50 398,218.70 412,218.70 C426,218.70 439.1,217.50 439.1,223.85" fill="none" stroke="#4c93f0" stroke-width="0.6"/>
<path d="M384.9,223.85 C384.9,230.00 398,229.00 412,229.00 C426,229.00 439.1,230.00 439.1,223.85" fill="none" stroke="#a6cdf8" stroke-width="0.45"/>
<path d="M301,229.90 Q374,230.70 447,229.50" fill="none" stroke="#a6cdf8" stroke-width="0.55"/>
<path d="M332.6,227.10 Q386,234.00 439.1,227.10" fill="none" stroke="#a6cdf8" stroke-width="0.4"/>
<rect x="341.80" y="216.00" width="9.20" height="4.40" fill="#fff"/>
<text x="346.40" y="220.05" font-size="5.6" text-anchor="middle">440</text>
<rect x="407.20" y="216.70" width="9.20" height="4.40" fill="#fff"/>
<text x="411.80" y="220.75" font-size="5.6" text-anchor="middle">461</text>
<rect x="318.40" y="228.40" width="3.60" height="4.40" fill="#fff"/>
<text x="320.20" y="232.45" font-size="5.6" text-anchor="middle">3</text>
<rect x="382.70" y="228.80" width="3.60" height="4.40" fill="#fff"/>
<text x="384.50" y="232.85" font-size="5.6" text-anchor="middle">8</text>
<polyline points="295.90,217.30 295.90,230.60" fill="none" stroke="#333" stroke-width="0.55"/>
<polyline points="291.50,217.30 295.90,217.30" fill="none" stroke="#333" stroke-width="0.55"/>
<text x="290.80" y="219.15" font-size="5.6" text-anchor="end">114</text>
<polyline points="291.50,221.20 295.90,221.20" fill="none" stroke="#333" stroke-width="0.55"/>
<text x="290.80" y="223.05" font-size="5.6" text-anchor="end">85.5</text>
<polyline points="291.50,226.20 295.90,226.20" fill="none" stroke="#333" stroke-width="0.55"/>
<text x="290.80" y="228.05" font-size="5.6" text-anchor="end">57</text>
<polyline points="291.50,230.60 295.90,230.60" fill="none" stroke="#333" stroke-width="0.55"/>
<text x="290.80" y="232.45" font-size="5.6" text-anchor="end">28.5</text>
<text x="275.40" y="226.04" font-size="7.4" text-anchor="middle" transform="rotate(-90 275.40 223.60)">RPKM</text>
<text x="302.20" y="243.38" font-size="6.9">DDX1-K234R (HEK-239T)</text>
<path d="M301.00,262.80 L301.00,246.79 L301.60,246.19 L302.21,245.61 L302.81,245.66 L303.42,245.78 L304.02,246.22 L304.62,247.16 L305.23,248.26 L305.83,249.27 L306.43,250.23 L307.04,251.33 L307.64,251.88 L308.25,252.59 L308.85,253.35 L309.45,253.77 L310.06,254.12 L310.66,254.51 L311.26,254.83 L311.87,254.92 L312.47,254.94 L313.08,255.30 L313.68,255.44 L314.28,255.24 L314.89,255.11 L315.49,255.14 L316.09,255.61 L316.70,255.25 L317.30,255.63 L317.91,255.61 L318.51,255.53 L319.11,255.82 L319.72,255.48 L320.32,255.59 L320.92,255.80 L321.53,255.63 L322.13,256.08 L322.74,255.83 L323.34,255.84 L323.94,255.84 L324.55,256.18 L325.15,256.14 L325.75,256.28 L326.36,256.34 L326.96,256.46 L327.57,256.59 L328.17,256.50 L328.77,256.31 L329.38,256.49 L329.98,256.39 L330.58,256.36 L331.19,256.64 L331.79,256.81 L332.40,256.59 L333.00,256.69 L333.00,262.80 Z" fill="#3cbc2a"/>
<path d="M360.10,262.80 L360.10,255.55 L360.70,256.18 L361.31,255.97 L361.91,256.19 L362.52,256.48 L363.12,255.97 L363.73,256.68 L364.33,256.93 L364.94,255.69 L365.54,257.11 L366.15,256.84 L366.75,255.96 L367.36,256.55 L367.96,256.89 L368.57,257.41 L369.17,256.63 L369.78,257.00 L370.38,257.57 L370.99,257.50 L371.59,257.81 L372.20,257.11 L372.80,257.48 L373.41,256.83 L374.01,257.73 L374.62,257.95 L375.22,257.73 L375.83,257.92 L376.43,257.19 L377.04,258.35 L377.64,258.55 L378.25,258.61 L378.85,257.98 L379.46,258.45 L380.06,257.77 L380.67,258.78 L381.27,258.76 L381.88,258.02 L382.48,257.66 L383.09,258.30 L383.69,258.54 L384.30,258.96 L384.90,258.58 L384.90,262.80 Z" fill="#3cbc2a"/>
<path d="M439.10,262.80 L439.10,258.36 L439.71,258.86 L440.32,258.60 L440.92,259.07 L441.53,258.87 L442.14,259.06 L442.75,259.39 L443.35,259.17 L443.96,259.29 L444.57,259.58 L445.18,259.79 L445.78,259.95 L446.39,259.99 L447.00,260.22 L447.00,262.80 Z" fill="#3cbc2a"/>
<ellipse cx="346.55" cy="257.35" rx="13.55" ry="6.25" fill="#fff" stroke="#3cbc2a" stroke-width="0.6"/>
<path d="M384.9,258.20 C384.9,251.80 398,253.00 412,253.00 C426,253.00 439.1,251.80 439.1,258.20" fill="none" stroke="#3cbc2a" stroke-width="0.6"/>
<polyline points="392.00,262.60 437.00,262.60" fill="none" stroke="#3cbc2a" stroke-width="0.5" stroke-dasharray="5,4" opacity="0.75"/>
<polyline points="340.00,262.60 352.00,262.60" fill="none" stroke="#3cbc2a" stroke-width="0.5" stroke-dasharray="4,3" opacity="0.75"/>
<path d="M301,265.90 Q374,266.70 447,265.50" fill="none" stroke="#a9e49f" stroke-width="0.55"/>
<path d="M332.6,263.40 Q386,270.00 439.1,263.40" fill="none" stroke="#a9e49f" stroke-width="0.4"/>
<rect x="342.20" y="249.40" width="9.20" height="4.40" fill="#fff"/>
<text x="346.80" y="253.45" font-size="5.6" text-anchor="middle">431</text>
<rect x="409.40" y="250.80" width="9.20" height="4.40" fill="#fff"/>
<text x="414.00" y="254.85" font-size="5.6" text-anchor="middle">421</text>
<rect x="320.60" y="264.70" width="3.60" height="4.40" fill="#fff"/>
<text x="322.40" y="268.75" font-size="5.6" text-anchor="middle">2</text>
<rect x="383.00" y="266.60" width="3.60" height="4.40" fill="#fff"/>
<text x="384.80" y="270.65" font-size="5.6" text-anchor="middle">3</text>
<polyline points="295.90,247.50 295.90,261.90" fill="none" stroke="#333" stroke-width="0.55"/>
<polyline points="291.50,247.50 295.90,247.50" fill="none" stroke="#333" stroke-width="0.55"/>
<text x="290.80" y="249.35" font-size="5.6" text-anchor="end">114</text>
<polyline points="291.50,252.20 295.90,252.20" fill="none" stroke="#333" stroke-width="0.55"/>
<text x="290.80" y="254.05" font-size="5.6" text-anchor="end">85.5</text>
<polyline points="291.50,257.20 295.90,257.20" fill="none" stroke="#333" stroke-width="0.55"/>
<text x="290.80" y="259.05" font-size="5.6" text-anchor="end">57</text>
<polyline points="291.50,261.90 295.90,261.90" fill="none" stroke="#333" stroke-width="0.55"/>
<text x="290.80" y="263.75" font-size="5.6" text-anchor="end">28.5</text>
<text x="275.40" y="256.84" font-size="7.4" text-anchor="middle" transform="rotate(-90 275.40 254.40)">RPKM</text>
<text x="302.20" y="276.68" font-size="6.9">DDX1-K234M</text>
<path d="M301.00,292.80 L301.00,279.59 L301.60,279.57 L302.21,278.92 L302.81,278.83 L303.41,278.91 L304.02,278.84 L304.62,279.22 L305.22,279.45 L305.83,279.76 L306.43,280.37 L307.03,280.71 L307.64,281.09 L308.24,281.61 L308.84,282.29 L309.45,282.72 L310.05,282.72 L310.65,283.34 L311.26,283.65 L311.86,283.65 L312.46,283.86 L313.07,283.84 L313.67,284.16 L314.27,284.28 L314.88,284.47 L315.48,284.31 L316.08,284.91 L316.69,284.81 L317.29,284.88 L317.89,285.21 L318.50,285.22 L319.10,285.31 L319.71,285.54 L320.31,285.35 L320.91,285.71 L321.52,285.78 L322.12,286.18 L322.72,286.29 L323.33,286.09 L323.93,286.32 L324.53,286.27 L325.14,286.55 L325.74,286.87 L326.34,287.04 L326.95,286.95 L327.55,287.00 L328.15,287.07 L328.76,287.41 L329.36,287.69 L329.96,287.42 L330.57,287.87 L331.17,287.62 L331.77,287.83 L332.38,287.97 L332.98,288.33 L333.58,288.28 L334.19,288.42 L334.79,288.68 L335.39,288.55 L336.00,288.99 L336.60,288.81 L336.60,292.80 Z" fill="#f4521f"/>
<path d="M359.30,292.80 L359.30,289.02 L359.91,288.66 L360.52,288.64 L361.13,289.23 L361.74,289.14 L362.35,289.10 L362.96,289.22 L363.57,289.46 L364.18,288.93 L364.79,289.06 L365.40,289.81 L366.00,289.88 L366.61,289.76 L367.22,290.34 L367.83,290.01 L368.44,290.46 L369.05,289.52 L369.66,290.40 L370.27,290.57 L370.88,290.78 L371.49,289.90 L372.10,289.95 L372.71,290.99 L373.32,289.92 L373.93,291.23 L374.54,291.11 L375.15,289.96 L375.76,290.19 L376.37,291.03 L376.98,290.34 L377.59,290.14 L378.20,291.38 L378.80,290.78 L379.41,291.43 L380.02,290.43 L380.63,290.93 L381.24,291.44 L381.85,290.43 L382.46,290.78 L383.07,291.61 L383.68,292.04 L384.29,292.19 L384.90,290.88 L384.90,292.80 Z" fill="#f4521f"/>
<path d="M439.10,292.80 L439.10,290.50 L439.71,290.56 L440.32,290.36 L440.92,290.39 L441.53,290.07 L442.14,289.94 L442.75,289.89 L443.35,289.78 L443.96,289.97 L444.57,289.88 L445.18,289.84 L445.78,289.56 L446.39,289.51 L447.00,289.45 L447.00,292.80 Z" fill="#f4521f"/>
<ellipse cx="347.95" cy="289.15" rx="11.35" ry="4.25" fill="#fff" stroke="#f4521f" stroke-width="0.6"/>
<path d="M384.9,289.60 C384.9,284.60 398,285.80 412,285.80 C426,285.80 439.1,284.60 439.1,289.60" fill="none" stroke="#f4521f" stroke-width="0.6"/>
<polyline points="392.00,292.60 437.00,292.60" fill="none" stroke="#f4521f" stroke-width="0.5" stroke-dasharray="5,4" opacity="0.75"/>
<polyline points="340.00,292.60 352.00,292.60" fill="none" stroke="#f4521f" stroke-width="0.5" stroke-dasharray="4,3" opacity="0.75"/>
<path d="M301,294.50 Q374,295.30 447,294.10" fill="none" stroke="#f9b79f" stroke-width="0.55"/>
<path d="M332.6,293.40 Q386,298.60 439.1,293.40" fill="none" stroke="#f9b79f" stroke-width="0.4"/>
<rect x="342.20" y="282.20" width="9.20" height="4.40" fill="#fff"/>
<text x="346.80" y="286.25" font-size="5.6" text-anchor="middle">443</text>
<rect x="408.30" y="282.70" width="9.20" height="4.40" fill="#fff"/>
<text x="412.90" y="286.75" font-size="5.6" text-anchor="middle">439</text>
<rect x="317.80" y="293.30" width="3.60" height="4.40" fill="#fff"/>
<text x="319.60" y="297.35" font-size="5.6" text-anchor="middle">4</text>
<rect x="382.50" y="293.30" width="3.60" height="4.40" fill="#fff"/>
<text x="384.30" y="297.35" font-size="5.6" text-anchor="middle">9</text>
<polyline points="295.90,278.80 295.90,293.80" fill="none" stroke="#333" stroke-width="0.55"/>
<polyline points="291.50,278.80 295.90,278.80" fill="none" stroke="#333" stroke-width="0.55"/>
<text x="290.80" y="280.65" font-size="5.6" text-anchor="end">114</text>
<polyline points="291.50,283.50 295.90,283.50" fill="none" stroke="#333" stroke-width="0.55"/>
<text x="290.80" y="285.35" font-size="5.6" text-anchor="end">85.5</text>
<polyline points="291.50,288.50 295.90,288.50" fill="none" stroke="#333" stroke-width="0.55"/>
<text x="290.80" y="290.35" font-size="5.6" text-anchor="end">57</text>
<polyline points="291.50,293.80 295.90,293.80" fill="none" stroke="#333" stroke-width="0.55"/>
<text x="290.80" y="295.65" font-size="5.6" text-anchor="end">28.5</text>
<text x="275.40" y="288.74" font-size="7.4" text-anchor="middle" transform="rotate(-90 275.40 286.30)">RPKM</text>
<polyline points="301.00,300.40 446.80,300.40" fill="none" stroke="#555" stroke-width="0.5"/>
<polyline points="301.00,300.40 301.00,302.60" fill="none" stroke="#555" stroke-width="0.5"/>
<polyline points="331.60,300.40 331.60,302.60" fill="none" stroke="#555" stroke-width="0.5"/>
<polyline points="369.00,300.40 369.00,302.60" fill="none" stroke="#555" stroke-width="0.5"/>
<polyline points="408.40,300.40 408.40,302.60" fill="none" stroke="#555" stroke-width="0.5"/>
<polyline points="446.70,300.40 446.70,302.60" fill="none" stroke="#555" stroke-width="0.5"/>
<text x="278.90" y="313.88" font-size="6.9">chr 5: 139, 325 kb</text>
<text x="451.40" y="313.88" font-size="6.9" text-anchor="end">139, 330 kb</text>
<polyline points="301.00,319.10 446.70,319.10" fill="none" stroke="#6a6a6a" stroke-width="0.7"/>
<rect x="301.00" y="317.70" width="34.70" height="2.80" fill="#000"/>
<rect x="360.10" y="317.70" width="24.70" height="2.80" fill="#000"/>
<rect x="441.10" y="317.70" width="5.60" height="2.80" fill="#000"/>
<rect x="342.50" y="318.40" width="1.00" height="1.40" fill="#000"/>
<rect x="351.50" y="318.40" width="1.00" height="1.40" fill="#000"/>
<rect x="392.50" y="318.40" width="1.00" height="1.40" fill="#000"/>
<rect x="401.50" y="318.40" width="1.00" height="1.40" fill="#000"/>
<rect x="410.50" y="318.40" width="1.00" height="1.40" fill="#000"/>
<rect x="419.50" y="318.40" width="1.00" height="1.40" fill="#000"/>
<rect x="428.50" y="318.40" width="1.00" height="1.40" fill="#000"/>
<rect x="435.50" y="318.40" width="1.00" height="1.40" fill="#000"/>
<polyline points="301.00,328.30 446.70,328.30" fill="none" stroke="#6a6a6a" stroke-width="0.7"/>
<rect x="301.00" y="326.90" width="34.70" height="2.80" fill="#000"/>
<rect x="441.10" y="326.90" width="5.60" height="2.80" fill="#000"/>
<rect x="342.50" y="327.60" width="1.00" height="1.40" fill="#000"/>
<rect x="351.50" y="327.60" width="1.00" height="1.40" fill="#000"/>
<rect x="360.50" y="327.60" width="1.00" height="1.40" fill="#000"/>
<rect x="369.50" y="327.60" width="1.00" height="1.40" fill="#000"/>
<rect x="378.50" y="327.60" width="1.00" height="1.40" fill="#000"/>
<rect x="392.50" y="327.60" width="1.00" height="1.40" fill="#000"/>
<rect x="401.50" y="327.60" width="1.00" height="1.40" fill="#000"/>
<rect x="410.50" y="327.60" width="1.00" height="1.40" fill="#000"/>
<rect x="419.50" y="327.60" width="1.00" height="1.40" fill="#000"/>
<rect x="428.50" y="327.60" width="1.00" height="1.40" fill="#000"/>
<rect x="435.50" y="327.60" width="1.00" height="1.40" fill="#000"/>
<text x="317.00" y="337.81" font-size="6.7" text-anchor="middle">Exon13</text>
<text x="371.80" y="337.81" font-size="6.7" text-anchor="middle">Exon14</text>
<text x="438.90" y="337.81" font-size="6.7" text-anchor="middle">Exon15</text>
</g>
<g id="panelF">
<text x="477.50" y="160.89" font-size="12.7">F</text>
<text x="531.10" y="169.81" font-size="6.1" text-anchor="middle">E1</text>
<text x="542.40" y="169.81" font-size="6.1" text-anchor="middle">E2</text>
<text x="554.10" y="169.81" font-size="6.1" text-anchor="middle">E3</text>
<text x="625.20" y="169.81" font-size="6.1" text-anchor="middle">E13</text>
<text x="636.00" y="169.81" font-size="6.1" text-anchor="middle">E14</text>
<text x="658.30" y="169.81" font-size="6.1" text-anchor="middle">E15</text>
<text x="542.40" y="179.61" font-size="6.1" text-anchor="middle">912</text>
<text x="552.90" y="179.61" font-size="6.1" text-anchor="middle">62</text>
<text x="625.20" y="179.61" font-size="6.1" text-anchor="middle">223</text>
<text x="636.00" y="179.61" font-size="6.1" text-anchor="middle">122</text>
<text x="656.80" y="179.61" font-size="6.1" text-anchor="middle">51</text>
<polyline points="561.80,167.80 617.50,167.80" fill="none" stroke="#333" stroke-width="0.6" stroke-dasharray="0.9,0.9"/>
<polyline points="561.80,177.60 617.50,177.60" fill="none" stroke="#333" stroke-width="0.6" stroke-dasharray="0.9,0.9"/>
<text x="491.90" y="180.11" font-size="7.6">Exon (bp)</text>
<text x="489.70" y="192.71" font-size="7.9" font-style="italic">MATR3-L</text>
<text x="489.70" y="210.21" font-size="7.9" font-style="italic">MATR3-S</text>
<polyline points="530.00,190.30 656.00,190.30" fill="none" stroke="#9b4a1b" stroke-width="1.3"/>
<rect x="529.40" y="184.40" width="1.40" height="11.80" fill="#e3bfa8"/>
<rect x="540.00" y="184.40" width="6.60" height="11.80" fill="#9b4a1b"/>
<rect x="551.80" y="184.40" width="1.30" height="11.80" fill="#9b4a1b"/>
<rect x="557.30" y="184.40" width="1.30" height="11.80" fill="#9b4a1b"/>
<rect x="561.40" y="184.40" width="3.40" height="11.80" fill="#9b4a1b"/>
<rect x="570.10" y="184.40" width="1.30" height="11.80" fill="#9b4a1b"/>
<rect x="573.00" y="184.40" width="3.40" height="11.80" fill="#9b4a1b"/>
<rect x="582.10" y="184.40" width="3.40" height="11.80" fill="#9b4a1b"/>
<rect x="587.00" y="184.40" width="4.80" height="11.80" fill="#9b4a1b"/>
<rect x="601.90" y="184.40" width="3.60" height="11.80" fill="#9b4a1b"/>
<rect x="607.90" y="184.40" width="1.30" height="11.80" fill="#9b4a1b"/>
<rect x="610.30" y="184.40" width="5.30" height="11.80" fill="#9b4a1b"/>
<rect x="627.20" y="184.40" width="3.10" height="11.80" fill="#9b4a1b"/>
<rect x="633.80" y="184.40" width="1.30" height="11.80" fill="#9b4a1b"/>
<rect x="656.60" y="184.70" width="13.80" height="11.20" fill="#fff" stroke="#9b4a1b" stroke-width="0.7"/>
<rect x="655.90" y="184.40" width="1.50" height="11.80" fill="#9b4a1b"/>
<polyline points="530.00,204.50 656.00,204.50" fill="none" stroke="#18226e" stroke-width="1.3"/>
<rect x="529.40" y="198.70" width="1.40" height="11.60" fill="#a9b6e6"/>
<rect x="540.00" y="198.70" width="6.60" height="11.60" fill="#18226e"/>
<rect x="551.80" y="198.70" width="1.30" height="11.60" fill="#18226e"/>
<rect x="557.30" y="198.70" width="1.30" height="11.60" fill="#18226e"/>
<rect x="561.40" y="198.70" width="3.40" height="11.60" fill="#18226e"/>
<rect x="570.10" y="198.70" width="1.30" height="11.60" fill="#18226e"/>
<rect x="573.00" y="198.70" width="3.40" height="11.60" fill="#18226e"/>
<rect x="582.10" y="198.70" width="3.40" height="11.60" fill="#18226e"/>
<rect x="587.00" y="198.70" width="4.80" height="11.60" fill="#18226e"/>
<rect x="601.90" y="198.70" width="3.60" height="11.60" fill="#18226e"/>
<rect x="607.90" y="198.70" width="1.30" height="11.60" fill="#18226e"/>
<rect x="610.30" y="198.70" width="5.30" height="11.60" fill="#18226e"/>
<rect x="627.20" y="198.70" width="3.10" height="11.60" fill="#18226e"/>
<rect x="656.60" y="199.00" width="13.80" height="11.00" fill="#fff" stroke="#a7b4dd" stroke-width="0.7"/>
<rect x="655.90" y="198.70" width="1.50" height="11.60" fill="#18226e"/>
<rect x="630.60" y="174.20" width="9.60" height="40.20" fill="none" stroke="#ff2a2a" stroke-width="0.75" stroke-dasharray="1.6,1.1"/>
</g>
<g id="panelG">
<text x="477.00" y="233.89" font-size="12.7">G</text>
<polyline points="551.60,238.90 551.60,308.50 653.40,308.50" fill="none" stroke="#000" stroke-width="0.9"/>
<polyline points="549.00,238.90 551.60,238.90" fill="none" stroke="#000" stroke-width="0.8"/>
<text x="547.80" y="241.54" font-size="8.0" text-anchor="end">1.5</text>
<polyline points="549.00,261.90 551.60,261.90" fill="none" stroke="#000" stroke-width="0.8"/>
<text x="547.80" y="264.54" font-size="8.0" text-anchor="end">1.0</text>
<polyline points="549.00,285.50 551.60,285.50" fill="none" stroke="#000" stroke-width="0.8"/>
<text x="547.80" y="288.14" font-size="8.0" text-anchor="end">0.5</text>
<polyline points="549.00,308.50 551.60,308.50" fill="none" stroke="#000" stroke-width="0.8"/>
<text x="547.80" y="311.14" font-size="8.0" text-anchor="end">0.0</text>
<rect x="559.30" y="261.90" width="12.30" height="46.60" fill="#4b97f3" stroke="#111" stroke-width="0.6"/>
<polyline points="565.45,256.40 565.45,268.60" fill="none" stroke="#111" stroke-width="0.6"/>
<polyline points="563.05,256.40 567.85,256.40" fill="none" stroke="#111" stroke-width="0.6"/>
<polyline points="563.05,268.60 567.85,268.60" fill="none" stroke="#111" stroke-width="0.6"/>
<polyline points="565.45,308.50 565.45,311.00" fill="none" stroke="#000" stroke-width="0.8"/>
<circle cx="565.15" cy="267.80" r="0.80" fill="#111"/>
<circle cx="565.95" cy="261.40" r="0.70" fill="#111"/>
<rect x="578.60" y="286.10" width="12.90" height="22.40" fill="#ff2010" stroke="#111" stroke-width="0.6"/>
<polyline points="585.05,283.00 585.05,289.50" fill="none" stroke="#111" stroke-width="0.6"/>
<polyline points="582.65,283.00 587.45,283.00" fill="none" stroke="#111" stroke-width="0.6"/>
<polyline points="582.65,289.50 587.45,289.50" fill="none" stroke="#111" stroke-width="0.6"/>
<polyline points="585.05,308.50 585.05,311.00" fill="none" stroke="#000" stroke-width="0.8"/>
<circle cx="584.75" cy="288.70" r="0.80" fill="#111"/>
<circle cx="585.55" cy="285.60" r="0.70" fill="#111"/>
<rect x="612.00" y="261.90" width="12.60" height="46.60" fill="#4b97f3" stroke="#111" stroke-width="0.6"/>
<polyline points="618.30,257.90 618.30,265.60" fill="none" stroke="#111" stroke-width="0.6"/>
<polyline points="615.90,257.90 620.70,257.90" fill="none" stroke="#111" stroke-width="0.6"/>
<polyline points="615.90,265.60 620.70,265.60" fill="none" stroke="#111" stroke-width="0.6"/>
<polyline points="618.30,308.50 618.30,311.00" fill="none" stroke="#000" stroke-width="0.8"/>
<circle cx="618.00" cy="264.80" r="0.80" fill="#111"/>
<circle cx="618.80" cy="261.40" r="0.70" fill="#111"/>
<rect x="631.30" y="280.00" width="12.90" height="28.50" fill="#ff2010" stroke="#111" stroke-width="0.6"/>
<polyline points="637.75,274.20 637.75,284.90" fill="none" stroke="#111" stroke-width="0.6"/>
<polyline points="635.35,274.20 640.15,274.20" fill="none" stroke="#111" stroke-width="0.6"/>
<polyline points="635.35,284.90 640.15,284.90" fill="none" stroke="#111" stroke-width="0.6"/>
<polyline points="637.75,308.50 637.75,311.00" fill="none" stroke="#000" stroke-width="0.8"/>
<circle cx="637.45" cy="284.10" r="0.80" fill="#111"/>
<circle cx="638.25" cy="279.50" r="0.70" fill="#111"/>
<polyline points="566.40,252.40 584.40,252.40" fill="none" stroke="#333" stroke-width="0.7"/>
<polyline points="622.10,252.40 640.50,252.40" fill="none" stroke="#333" stroke-width="0.7"/>
<text x="575.60" y="252.00" font-size="8.5" text-anchor="middle">**</text>
<text x="631.30" y="252.00" font-size="8.5" text-anchor="middle">**</text>
<text x="514.10" y="275.93" font-size="7.66" text-anchor="middle" transform="rotate(-90 514.10 273.40)">RNA-seq relative expression ratio</text>
<text x="528.40" y="277.84" font-size="8.0" text-anchor="middle" transform="rotate(-90 528.40 275.20)">(MATR3-L/MATR3-S)</text>
<text x="576.60" y="320.74" font-size="7.7" text-anchor="end" transform="rotate(-31 576.60 318.20)">Control</text>
<text x="594.30" y="321.04" font-size="7.7" text-anchor="end" transform="rotate(-31 594.30 318.50)">TBHP</text>
<text x="632.20" y="317.24" font-size="7.7" text-anchor="end" transform="rotate(-31 632.20 314.70)">DDX1-K234R</text>
<text x="659.80" y="317.24" font-size="7.7" text-anchor="end" transform="rotate(-31 659.80 314.70)">DDX1-K234M</text>
</g>
<defs><filter id="bl" x="-20%" y="-60%" width="140%" height="220%"><feGaussianBlur stdDeviation="0.9 0.8"/></filter></defs>
<g id="panelH">
<text x="11.00" y="360.39" font-size="12.7">H</text>
<text x="57.10" y="392.07" font-size="7.8" text-anchor="middle">NP</text>
<polyline points="32.60,395.30 78.60,395.30" fill="none" stroke="#1a1a1a" stroke-width="0.85"/>
<text x="16.50" y="404.44" font-size="7.4" text-anchor="middle">M</text>
<text x="31.50" y="402.94" font-size="7.7">Control</text>
<text x="60.30" y="403.34" font-size="7.7">TBHP</text>
<rect x="31.10" y="409.40" width="49.50" height="75.20" fill="#080808"/>
<rect x="34.00" y="409.40" width="17.50" height="75.20" fill="#0c0c0c"/>
<rect x="60.50" y="409.40" width="17.50" height="75.20" fill="#0d0d0d"/>
<rect x="33.30" y="436.20" width="18.70" height="7.00" rx="1.6" fill="#ffffff" opacity="1" filter="url(#bl)"/>
<rect x="35.00" y="437.70" width="15.60" height="4.00" fill="#fff" rx="1.3"/>
<rect x="60.60" y="436.20" width="16.60" height="4.60" rx="1.6" fill="#6e6e6e" opacity="0.75" filter="url(#bl)"/>
<rect x="33.80" y="447.20" width="17.80" height="4.30" rx="1.6" fill="#8a8a8a" opacity="0.8" filter="url(#bl)"/>
<rect x="59.80" y="446.60" width="18.80" height="5.40" rx="1.6" fill="#ffffff" opacity="1" filter="url(#bl)"/>
<rect x="61.50" y="447.60" width="15.50" height="3.40" fill="#fff" rx="1.3"/>
<text x="0.70" y="439.74" font-size="7.7">2544 bp</text>
<text x="0.70" y="451.64" font-size="7.7">2385 bp</text>
<polyline points="98.20,438.10 88.90,438.10" fill="none" stroke="#000" stroke-width="0.9"/>
<path d="M86.90,438.10 L91.70,436.00 L90.50,438.10 L91.70,440.20 Z" fill="#000"/>
<polyline points="98.20,451.10 88.90,451.10" fill="none" stroke="#000" stroke-width="0.9"/>
<path d="M86.90,451.10 L91.70,449.00 L90.50,451.10 L91.70,453.20 Z" fill="#000"/>
<text x="119.90" y="429.61" font-size="7.9" text-anchor="middle" font-style="italic">MATR3</text>
<rect x="104.50" y="433.30" width="9.72" height="8.60" fill="#ececec" stroke="#2a2a2a" stroke-width="0.75"/>
<rect x="105.40" y="434.20" width="7.92" height="6.80" fill="none" stroke="#fff" stroke-width="0.5"/>
<text x="109.36" y="440.34" font-size="8.0" text-anchor="middle">13</text>
<rect x="114.22" y="433.30" width="9.72" height="8.60" fill="#c9c9c9" stroke="#2a2a2a" stroke-width="0.75"/>
<rect x="115.12" y="434.20" width="7.92" height="6.80" fill="none" stroke="#fff" stroke-width="0.5"/>
<text x="119.08" y="440.34" font-size="8.0" text-anchor="middle">14</text>
<rect x="123.94" y="433.30" width="9.72" height="8.60" fill="#ececec" stroke="#2a2a2a" stroke-width="0.75"/>
<rect x="124.84" y="434.20" width="7.92" height="6.80" fill="none" stroke="#fff" stroke-width="0.5"/>
<text x="128.80" y="440.34" font-size="8.0" text-anchor="middle">15</text>
<rect x="104.50" y="447.20" width="9.72" height="8.30" fill="#ececec" stroke="#2a2a2a" stroke-width="0.75"/>
<rect x="105.40" y="448.10" width="7.92" height="6.50" fill="none" stroke="#fff" stroke-width="0.5"/>
<text x="109.36" y="454.09" font-size="8.0" text-anchor="middle">13</text>
<rect x="114.22" y="447.20" width="9.72" height="8.30" fill="#ececec" stroke="#2a2a2a" stroke-width="0.75"/>
<rect x="115.12" y="448.10" width="7.92" height="6.50" fill="none" stroke="#fff" stroke-width="0.5"/>
<text x="119.08" y="454.09" font-size="8.0" text-anchor="middle">15</text>
<text x="192.70" y="392.07" font-size="7.8" text-anchor="middle">HEK293T</text>
<polyline points="168.20,395.30 217.90,395.30" fill="none" stroke="#1a1a1a" stroke-width="0.85"/>
<text x="152.40" y="404.44" font-size="7.4" text-anchor="middle">M</text>
<text x="167.50" y="402.94" font-size="7.7">K234R</text>
<text x="194.50" y="402.94" font-size="7.7">K234M</text>
<rect x="167.20" y="408.60" width="50.90" height="76.00" fill="#080808"/>
<rect x="171.50" y="408.60" width="18.00" height="76.00" fill="#0c0c0c"/>
<rect x="197.50" y="408.60" width="18.50" height="76.00" fill="#0d0d0d"/>
<rect x="171.60" y="436.60" width="17.70" height="4.40" rx="1.6" fill="#ffffff" opacity="1" filter="url(#bl)"/>
<rect x="173.20" y="437.50" width="14.60" height="2.70" fill="#fff" rx="1.2"/>
<rect x="198.00" y="437.00" width="17.40" height="3.80" rx="1.6" fill="#8a8a8a" opacity="0.8" filter="url(#bl)"/>
<rect x="171.50" y="449.00" width="17.50" height="4.40" rx="1.6" fill="#5e5e5e" opacity="0.8" filter="url(#bl)"/>
<rect x="197.10" y="448.20" width="19.30" height="6.30" rx="1.6" fill="#ffffff" opacity="1" filter="url(#bl)"/>
<rect x="198.80" y="449.40" width="16.00" height="4.00" fill="#fff" rx="1.4"/>
<text x="140.20" y="439.04" font-size="7.7">2544 bp</text>
<text x="140.20" y="452.84" font-size="7.7">2385 bp</text>
<polyline points="235.50,438.40 227.30,438.40" fill="none" stroke="#000" stroke-width="0.9"/>
<path d="M225.30,438.40 L230.10,436.30 L228.90,438.40 L230.10,440.50 Z" fill="#000"/>
<polyline points="235.50,451.40 227.30,451.40" fill="none" stroke="#000" stroke-width="0.9"/>
<path d="M225.30,451.40 L230.10,449.30 L228.90,451.40 L230.10,453.50 Z" fill="#000"/>
</g>
<g id="panelI">
<text x="264.20" y="356.79" font-size="12.7">I</text>
<rect x="355.60" y="363.20" width="109.30" height="56.10" fill="#fff" stroke="#8c8c8c" stroke-width="0.6"/>
<polyline points="375.30,363.50 375.30,419.00" fill="none" stroke="#ececec" stroke-width="0.5"/>
<polyline points="405.70,363.50 405.70,419.00" fill="none" stroke="#ececec" stroke-width="0.5"/>
<polyline points="436.40,363.50 436.40,419.00" fill="none" stroke="#ececec" stroke-width="0.5"/>
<polyline points="360.10,363.50 360.10,419.00" fill="none" stroke="#f4f4f4" stroke-width="0.35"/>
<polyline points="390.50,363.50 390.50,419.00" fill="none" stroke="#f4f4f4" stroke-width="0.35"/>
<polyline points="421.00,363.50 421.00,419.00" fill="none" stroke="#f4f4f4" stroke-width="0.35"/>
<polyline points="451.60,363.50 451.60,419.00" fill="none" stroke="#f4f4f4" stroke-width="0.35"/>
<polyline points="355.90,369.70 464.60,369.70" fill="none" stroke="#ececec" stroke-width="0.5"/>
<polyline points="354.00,369.70 355.60,369.70" fill="none" stroke="#555" stroke-width="0.4"/>
<text x="352.60" y="372.26" font-size="7.75" text-anchor="end">Cytoplasmic translation</text>
<polyline points="355.90,380.70 464.60,380.70" fill="none" stroke="#ececec" stroke-width="0.5"/>
<polyline points="354.00,380.70 355.60,380.70" fill="none" stroke="#555" stroke-width="0.4"/>
<text x="352.60" y="383.26" font-size="7.75" text-anchor="end">Spliceosome</text>
<polyline points="355.90,390.90 464.60,390.90" fill="none" stroke="#ececec" stroke-width="0.5"/>
<polyline points="354.00,390.90 355.60,390.90" fill="none" stroke="#555" stroke-width="0.4"/>
<text x="352.60" y="393.46" font-size="7.75" text-anchor="end">Translation</text>
<polyline points="355.90,401.90 464.60,401.90" fill="none" stroke="#ececec" stroke-width="0.5"/>
<polyline points="354.00,401.90 355.60,401.90" fill="none" stroke="#555" stroke-width="0.4"/>
<text x="352.60" y="404.46" font-size="7.75" text-anchor="end">rRNA processing</text>
<polyline points="355.90,412.40 464.60,412.40" fill="none" stroke="#ececec" stroke-width="0.5"/>
<polyline points="354.00,412.40 355.60,412.40" fill="none" stroke="#555" stroke-width="0.4"/>
<text x="352.60" y="414.96" font-size="7.75" text-anchor="end">RNA splicing</text>
<rect x="464.90" y="363.20" width="6.50" height="56.10" fill="#d9d9d9" stroke="#8c8c8c" stroke-width="0.6"/>
<text x="356.30" y="361.17" font-size="7.8">K234R</text>
<circle cx="452.90" cy="369.80" r="1.05" fill="#e0244f"/>
<circle cx="438.60" cy="380.80" r="1.05" fill="#e0244f"/>
<circle cx="409.60" cy="391.40" r="1.05" fill="#e0244f"/>
<circle cx="388.60" cy="402.20" r="0.80" fill="#59b2f0"/>
<circle cx="388.20" cy="413.00" r="0.95" fill="#e0244f"/>
<rect x="355.60" y="430.80" width="109.30" height="55.70" fill="#fff" stroke="#8c8c8c" stroke-width="0.6"/>
<polyline points="375.30,431.10 375.30,486.20" fill="none" stroke="#ececec" stroke-width="0.5"/>
<polyline points="405.70,431.10 405.70,486.20" fill="none" stroke="#ececec" stroke-width="0.5"/>
<polyline points="436.40,431.10 436.40,486.20" fill="none" stroke="#ececec" stroke-width="0.5"/>
<polyline points="360.10,431.10 360.10,486.20" fill="none" stroke="#f4f4f4" stroke-width="0.35"/>
<polyline points="390.50,431.10 390.50,486.20" fill="none" stroke="#f4f4f4" stroke-width="0.35"/>
<polyline points="421.00,431.10 421.00,486.20" fill="none" stroke="#f4f4f4" stroke-width="0.35"/>
<polyline points="451.60,431.10 451.60,486.20" fill="none" stroke="#f4f4f4" stroke-width="0.35"/>
<polyline points="355.90,437.20 464.60,437.20" fill="none" stroke="#ececec" stroke-width="0.5"/>
<polyline points="354.00,437.20 355.60,437.20" fill="none" stroke="#555" stroke-width="0.4"/>
<text x="352.60" y="439.76" font-size="7.75" text-anchor="end">Cytoplasmic traslation</text>
<polyline points="355.90,447.50 464.60,447.50" fill="none" stroke="#ececec" stroke-width="0.5"/>
<polyline points="354.00,447.50 355.60,447.50" fill="none" stroke="#555" stroke-width="0.4"/>
<text x="352.60" y="450.06" font-size="7.75" text-anchor="end">Translation</text>
<polyline points="355.90,458.10 464.60,458.10" fill="none" stroke="#ececec" stroke-width="0.5"/>
<polyline points="354.00,458.10 355.60,458.10" fill="none" stroke="#555" stroke-width="0.4"/>
<text x="352.60" y="460.66" font-size="7.75" text-anchor="end">Spliceosome</text>
<polyline points="355.90,468.30 464.60,468.30" fill="none" stroke="#ececec" stroke-width="0.5"/>
<polyline points="354.00,468.30 355.60,468.30" fill="none" stroke="#555" stroke-width="0.4"/>
<text x="352.60" y="470.86" font-size="7.75" text-anchor="end">rRNA processing</text>
<polyline points="355.90,478.60 464.60,478.60" fill="none" stroke="#ececec" stroke-width="0.5"/>
<polyline points="354.00,478.60 355.60,478.60" fill="none" stroke="#555" stroke-width="0.4"/>
<text x="352.60" y="481.16" font-size="7.75" text-anchor="end">RNA splicing</text>
<rect x="464.90" y="430.80" width="6.50" height="55.70" fill="#d9d9d9" stroke="#8c8c8c" stroke-width="0.6"/>
<text x="356.30" y="428.57" font-size="7.8">K234M</text>
<circle cx="451.60" cy="437.40" r="0.90" fill="#e0244f"/>
<circle cx="412.00" cy="448.10" r="1.10" fill="#e0244f"/>
<circle cx="391.30" cy="458.70" r="0.90" fill="#e0244f"/>
<circle cx="390.60" cy="469.30" r="0.65" fill="#8cc8f4"/>
<circle cx="365.50" cy="480.00" r="0.50" fill="#ee7f9d"/>
<polyline points="375.30,486.50 375.30,488.10" fill="none" stroke="#555" stroke-width="0.4"/>
<text x="375.30" y="496.04" font-size="7.4" text-anchor="middle">4</text>
<polyline points="405.70,486.50 405.70,488.10" fill="none" stroke="#555" stroke-width="0.4"/>
<text x="405.70" y="496.04" font-size="7.4" text-anchor="middle">8</text>
<polyline points="436.40,486.50 436.40,488.10" fill="none" stroke="#555" stroke-width="0.4"/>
<text x="436.40" y="496.04" font-size="7.4" text-anchor="middle">12</text>
<text x="408.70" y="504.24" font-size="7.7" text-anchor="middle">Enrichment score</text>
<text x="476.30" y="385.44" font-size="7.4">Count</text>
<circle cx="478.80" cy="394.70" r="1.90" fill="#000"/>
<text x="484.60" y="397.01" font-size="7.0">200</text>
<circle cx="478.80" cy="403.00" r="2.55" fill="#000"/>
<text x="484.60" y="405.31" font-size="7.0">400</text>
<circle cx="478.80" cy="411.10" r="3.15" fill="#000"/>
<text x="484.60" y="413.41" font-size="7.0">600</text>
<text x="476.30" y="437.04" font-size="7.4">P-value</text>
<defs><linearGradient id="pv" x1="0" y1="0" x2="0" y2="1"><stop offset="0" stop-color="#62aeea"/><stop offset="0.22" stop-color="#8fc6f0"/><stop offset="0.52" stop-color="#fdfbfd"/><stop offset="0.8" stop-color="#ea7fa5"/><stop offset="1" stop-color="#d92c6c"/></linearGradient></defs>
<rect x="476.40" y="444.00" width="7.60" height="35.00" fill="url(#pv)"/>
<text x="485.70" y="453.84" font-size="6.8">0.0100</text>
<text x="485.70" y="464.04" font-size="6.8">0.0050</text>
<text x="485.70" y="474.04" font-size="6.8">0.0025</text>
</g>
<g id="panelJ">
<text x="503.00" y="356.49" font-size="12.7">J</text>
<rect x="545.20" y="364.30" width="124.60" height="106.10" fill="#fff" stroke="#111" stroke-width="0.8"/>
<polyline points="566.30,364.30 566.30,470.40" fill="none" stroke="#000" stroke-width="1.2"/>
<polyline points="545.20,451.80 669.80,451.80" fill="none" stroke="#000" stroke-width="1.2"/>
<text x="545.12" y="478.78" font-size="7.5" text-anchor="middle">-2</text>
<text x="542.60" y="472.58" font-size="7.5" text-anchor="end">-2</text>
<text x="566.30" y="478.78" font-size="7.5" text-anchor="middle">0</text>
<text x="542.60" y="454.58" font-size="7.5" text-anchor="end">0</text>
<text x="587.48" y="478.78" font-size="7.5" text-anchor="middle">2</text>
<text x="542.60" y="436.58" font-size="7.5" text-anchor="end">2</text>
<text x="608.66" y="478.78" font-size="7.5" text-anchor="middle">4</text>
<text x="542.60" y="418.58" font-size="7.5" text-anchor="end">4</text>
<text x="629.84" y="478.78" font-size="7.5" text-anchor="middle">6</text>
<text x="542.60" y="400.58" font-size="7.5" text-anchor="end">6</text>
<text x="651.02" y="478.78" font-size="7.5" text-anchor="middle">8</text>
<text x="542.60" y="382.58" font-size="7.5" text-anchor="end">8</text>
<text x="670.60" y="478.78" font-size="7.5" text-anchor="middle">10</text>
<text x="542.60" y="366.88" font-size="7.5" text-anchor="end">10</text>
<text x="608.4" y="492.47" font-size="7.8" text-anchor="middle">log<tspan font-size="5.2" dy="1.5">2</tspan><tspan dy="-1.5"> (FC Enriched in methylated DDX1)</tspan></text>
<text x="528" y="420.17" font-size="7.8" text-anchor="middle" transform="rotate(-90 528 417.6)">log<tspan font-size="5.2" dy="1.5">2</tspan><tspan dy="-1.5"> (FC Enriched in normal DDX1)</tspan></text>
<text x="640.60" y="458.84" font-size="7.7">n = 237</text>
<text x="640.6" y="466.71" font-size="7.6">R<tspan font-size="4.8" dy="-2.7">2</tspan><tspan dy="2.7"> = 0.51</tspan></text>
<circle cx="599.78" cy="409.62" r="1.15" fill="#535353"/>
<circle cx="581.30" cy="422.50" r="1.15" fill="#535353"/>
<circle cx="593.40" cy="426.22" r="1.15" fill="#535353"/>
<circle cx="632.27" cy="400.18" r="1.15" fill="#535353"/>
<circle cx="597.30" cy="415.50" r="1.15" fill="#535353"/>
<circle cx="618.36" cy="409.83" r="1.15" fill="#535353"/>
<circle cx="608.66" cy="423.50" r="1.15" fill="#535353"/>
<circle cx="591.47" cy="428.85" r="1.15" fill="#535353"/>
<circle cx="574.08" cy="448.05" r="1.15" fill="#535353"/>
<circle cx="568.78" cy="440.26" r="1.15" fill="#535353"/>
<circle cx="594.97" cy="425.82" r="1.15" fill="#535353"/>
<circle cx="599.31" cy="431.99" r="1.15" fill="#535353"/>
<circle cx="596.64" cy="420.08" r="1.15" fill="#535353"/>
<circle cx="611.59" cy="420.71" r="1.15" fill="#535353"/>
<circle cx="590.87" cy="442.68" r="1.15" fill="#535353"/>
<circle cx="589.00" cy="445.31" r="1.15" fill="#535353"/>
<circle cx="572.52" cy="426.64" r="1.15" fill="#535353"/>
<circle cx="558.43" cy="437.37" r="1.15" fill="#535353"/>
<circle cx="603.97" cy="420.55" r="1.15" fill="#535353"/>
<circle cx="606.34" cy="412.00" r="1.15" fill="#535353"/>
<circle cx="616.89" cy="412.38" r="1.15" fill="#535353"/>
<circle cx="587.41" cy="432.62" r="1.15" fill="#535353"/>
<circle cx="580.31" cy="431.94" r="1.15" fill="#535353"/>
<circle cx="583.92" cy="420.33" r="1.15" fill="#535353"/>
<circle cx="564.41" cy="450.09" r="1.15" fill="#535353"/>
<circle cx="580.91" cy="449.10" r="1.15" fill="#535353"/>
<circle cx="632.32" cy="422.09" r="1.15" fill="#535353"/>
<circle cx="592.97" cy="428.73" r="1.15" fill="#535353"/>
<circle cx="627.88" cy="421.04" r="1.15" fill="#535353"/>
<circle cx="617.37" cy="416.39" r="1.15" fill="#535353"/>
<circle cx="595.28" cy="428.64" r="1.15" fill="#535353"/>
<circle cx="609.60" cy="424.35" r="1.15" fill="#535353"/>
<circle cx="596.65" cy="419.09" r="1.15" fill="#535353"/>
<circle cx="631.20" cy="422.71" r="1.15" fill="#535353"/>
<circle cx="625.53" cy="397.32" r="1.15" fill="#535353"/>
<circle cx="589.36" cy="423.71" r="1.15" fill="#535353"/>
<circle cx="589.68" cy="412.06" r="1.15" fill="#535353"/>
<circle cx="601.84" cy="420.95" r="1.15" fill="#535353"/>
<circle cx="593.96" cy="425.37" r="1.15" fill="#535353"/>
<circle cx="594.89" cy="430.64" r="1.15" fill="#535353"/>
<circle cx="635.13" cy="416.21" r="1.15" fill="#535353"/>
<circle cx="595.43" cy="419.63" r="1.15" fill="#535353"/>
<circle cx="594.39" cy="424.68" r="1.15" fill="#535353"/>
<circle cx="604.05" cy="409.55" r="1.15" fill="#535353"/>
<circle cx="590.01" cy="429.14" r="1.15" fill="#535353"/>
<circle cx="633.01" cy="396.57" r="1.15" fill="#535353"/>
<circle cx="580.33" cy="411.67" r="1.15" fill="#535353"/>
<circle cx="612.04" cy="418.25" r="1.15" fill="#535353"/>
<circle cx="576.93" cy="430.96" r="1.15" fill="#535353"/>
<circle cx="583.09" cy="438.99" r="1.15" fill="#535353"/>
<circle cx="574.74" cy="439.10" r="1.15" fill="#535353"/>
<circle cx="618.01" cy="413.47" r="1.15" fill="#535353"/>
<circle cx="571.98" cy="430.65" r="1.15" fill="#535353"/>
<circle cx="599.25" cy="413.39" r="1.15" fill="#535353"/>
<circle cx="619.70" cy="410.23" r="1.15" fill="#535353"/>
<circle cx="595.46" cy="423.19" r="1.15" fill="#535353"/>
<circle cx="577.64" cy="427.37" r="1.15" fill="#535353"/>
<circle cx="622.77" cy="405.53" r="1.15" fill="#535353"/>
<circle cx="593.80" cy="425.98" r="1.15" fill="#535353"/>
<circle cx="584.02" cy="436.29" r="1.15" fill="#535353"/>
<circle cx="590.85" cy="432.66" r="1.15" fill="#535353"/>
<circle cx="590.20" cy="439.33" r="1.15" fill="#535353"/>
<circle cx="604.37" cy="417.23" r="1.15" fill="#535353"/>
<circle cx="577.32" cy="452.93" r="1.15" fill="#535353"/>
<circle cx="597.93" cy="411.93" r="1.15" fill="#535353"/>
<circle cx="584.86" cy="433.05" r="1.15" fill="#535353"/>
<circle cx="587.84" cy="421.62" r="1.15" fill="#535353"/>
<circle cx="581.58" cy="422.39" r="1.15" fill="#535353"/>
<circle cx="592.61" cy="416.54" r="1.15" fill="#535353"/>
<circle cx="598.66" cy="422.93" r="1.15" fill="#535353"/>
<circle cx="571.46" cy="442.54" r="1.15" fill="#535353"/>
<circle cx="593.37" cy="418.37" r="1.15" fill="#535353"/>
<circle cx="602.48" cy="424.70" r="1.15" fill="#535353"/>
<circle cx="605.45" cy="408.59" r="1.15" fill="#535353"/>
<circle cx="595.40" cy="426.59" r="1.15" fill="#535353"/>
<circle cx="590.98" cy="418.46" r="1.15" fill="#535353"/>
<circle cx="607.76" cy="423.64" r="1.15" fill="#535353"/>
<circle cx="604.82" cy="421.49" r="1.15" fill="#535353"/>
<circle cx="584.55" cy="418.51" r="1.15" fill="#535353"/>
<circle cx="612.85" cy="418.94" r="1.15" fill="#535353"/>
<circle cx="599.50" cy="416.18" r="1.15" fill="#535353"/>
<circle cx="586.56" cy="428.97" r="1.15" fill="#535353"/>
<circle cx="610.08" cy="429.65" r="1.15" fill="#535353"/>
<circle cx="603.97" cy="411.57" r="1.15" fill="#535353"/>
<circle cx="607.15" cy="427.51" r="1.15" fill="#535353"/>
<circle cx="603.81" cy="425.36" r="1.15" fill="#535353"/>
<circle cx="608.33" cy="410.19" r="1.15" fill="#535353"/>
<circle cx="601.97" cy="425.58" r="1.15" fill="#535353"/>
<circle cx="587.43" cy="420.14" r="1.15" fill="#535353"/>
<circle cx="581.89" cy="426.40" r="1.15" fill="#535353"/>
<circle cx="607.28" cy="418.35" r="1.15" fill="#535353"/>
<circle cx="641.18" cy="395.78" r="1.15" fill="#535353"/>
<circle cx="636.71" cy="416.20" r="1.15" fill="#535353"/>
<circle cx="557.68" cy="436.24" r="1.15" fill="#535353"/>
<circle cx="609.52" cy="417.34" r="1.15" fill="#535353"/>
<circle cx="597.11" cy="438.12" r="1.15" fill="#535353"/>
<circle cx="586.75" cy="436.67" r="1.15" fill="#535353"/>
<circle cx="594.08" cy="416.02" r="1.15" fill="#535353"/>
<circle cx="599.02" cy="417.56" r="1.15" fill="#535353"/>
<circle cx="585.50" cy="432.27" r="1.15" fill="#535353"/>
<circle cx="600.09" cy="422.54" r="1.15" fill="#535353"/>
<circle cx="620.84" cy="415.62" r="1.15" fill="#535353"/>
<circle cx="632.11" cy="410.00" r="1.15" fill="#535353"/>
<circle cx="617.15" cy="416.88" r="1.15" fill="#535353"/>
<circle cx="627.74" cy="402.98" r="1.15" fill="#535353"/>
<circle cx="605.24" cy="410.78" r="1.15" fill="#535353"/>
<circle cx="586.64" cy="436.80" r="1.15" fill="#535353"/>
<circle cx="561.59" cy="431.94" r="1.15" fill="#535353"/>
<circle cx="585.54" cy="433.59" r="1.15" fill="#535353"/>
<circle cx="597.51" cy="404.61" r="1.15" fill="#535353"/>
<circle cx="566.95" cy="437.14" r="1.15" fill="#535353"/>
<circle cx="590.94" cy="420.86" r="1.15" fill="#535353"/>
<circle cx="565.68" cy="443.41" r="1.15" fill="#535353"/>
<circle cx="613.20" cy="399.21" r="1.15" fill="#535353"/>
<circle cx="626.82" cy="411.99" r="1.15" fill="#535353"/>
<circle cx="599.05" cy="421.66" r="1.15" fill="#535353"/>
<circle cx="573.29" cy="447.93" r="1.15" fill="#535353"/>
<circle cx="611.70" cy="411.32" r="1.15" fill="#535353"/>
<circle cx="595.50" cy="412.38" r="1.15" fill="#535353"/>
<circle cx="580.04" cy="427.21" r="1.15" fill="#535353"/>
<circle cx="598.25" cy="421.69" r="1.15" fill="#535353"/>
<circle cx="606.90" cy="414.68" r="1.15" fill="#535353"/>
<circle cx="602.87" cy="416.24" r="1.15" fill="#535353"/>
<circle cx="632.97" cy="403.78" r="1.15" fill="#535353"/>
<circle cx="616.29" cy="405.56" r="1.15" fill="#535353"/>
<circle cx="591.77" cy="418.12" r="1.15" fill="#535353"/>
<circle cx="582.63" cy="420.29" r="1.15" fill="#535353"/>
<circle cx="583.50" cy="433.90" r="1.15" fill="#535353"/>
<circle cx="603.89" cy="410.81" r="1.15" fill="#535353"/>
<circle cx="614.41" cy="404.21" r="1.15" fill="#535353"/>
<circle cx="594.34" cy="431.62" r="1.15" fill="#535353"/>
<circle cx="607.97" cy="412.99" r="1.15" fill="#535353"/>
<circle cx="580.92" cy="422.88" r="1.15" fill="#535353"/>
<circle cx="601.65" cy="427.41" r="1.15" fill="#535353"/>
<circle cx="606.01" cy="428.03" r="1.15" fill="#535353"/>
<circle cx="582.27" cy="426.98" r="1.15" fill="#535353"/>
<circle cx="570.03" cy="437.17" r="1.15" fill="#535353"/>
<circle cx="573.74" cy="429.05" r="1.15" fill="#535353"/>
<circle cx="584.98" cy="427.29" r="1.15" fill="#535353"/>
<circle cx="571.02" cy="439.86" r="1.15" fill="#535353"/>
<circle cx="615.12" cy="407.53" r="1.15" fill="#535353"/>
<circle cx="564.97" cy="432.52" r="1.15" fill="#535353"/>
<circle cx="614.13" cy="415.22" r="1.15" fill="#535353"/>
<circle cx="623.58" cy="415.60" r="1.15" fill="#535353"/>
<circle cx="596.53" cy="412.66" r="1.15" fill="#535353"/>
<circle cx="621.66" cy="396.71" r="1.15" fill="#535353"/>
<circle cx="578.37" cy="447.90" r="1.15" fill="#535353"/>
<circle cx="605.12" cy="429.46" r="1.15" fill="#535353"/>
<circle cx="595.70" cy="433.61" r="1.15" fill="#535353"/>
<circle cx="617.18" cy="403.38" r="1.15" fill="#535353"/>
<circle cx="608.09" cy="415.35" r="1.15" fill="#535353"/>
<circle cx="598.89" cy="423.36" r="1.15" fill="#535353"/>
<circle cx="604.97" cy="415.17" r="1.15" fill="#535353"/>
<circle cx="606.34" cy="420.18" r="1.15" fill="#535353"/>
<circle cx="632.25" cy="399.12" r="1.15" fill="#535353"/>
<circle cx="623.17" cy="395.41" r="1.15" fill="#535353"/>
<circle cx="582.24" cy="444.86" r="1.15" fill="#535353"/>
<circle cx="620.70" cy="411.52" r="1.15" fill="#535353"/>
<circle cx="599.55" cy="422.65" r="1.15" fill="#535353"/>
<circle cx="600.42" cy="430.10" r="1.15" fill="#535353"/>
<circle cx="596.21" cy="426.33" r="1.15" fill="#535353"/>
<circle cx="597.80" cy="441.41" r="1.15" fill="#535353"/>
<circle cx="612.85" cy="409.91" r="1.15" fill="#535353"/>
<circle cx="566.98" cy="445.53" r="1.15" fill="#535353"/>
<circle cx="598.63" cy="415.59" r="1.15" fill="#535353"/>
<circle cx="598.08" cy="409.46" r="1.15" fill="#535353"/>
<circle cx="598.47" cy="429.61" r="1.15" fill="#535353"/>
<circle cx="585.89" cy="421.97" r="1.15" fill="#535353"/>
<circle cx="587.03" cy="420.48" r="1.15" fill="#535353"/>
<circle cx="616.44" cy="405.64" r="1.15" fill="#535353"/>
<circle cx="616.38" cy="412.19" r="1.15" fill="#535353"/>
<circle cx="597.90" cy="426.45" r="1.15" fill="#535353"/>
<circle cx="587.08" cy="441.02" r="1.15" fill="#535353"/>
<circle cx="588.07" cy="436.23" r="1.15" fill="#535353"/>
<circle cx="572.37" cy="434.89" r="1.15" fill="#535353"/>
<circle cx="606.25" cy="419.48" r="1.15" fill="#535353"/>
<circle cx="622.71" cy="399.01" r="1.15" fill="#535353"/>
<circle cx="616.88" cy="415.58" r="1.15" fill="#535353"/>
<circle cx="571.20" cy="432.04" r="1.15" fill="#535353"/>
<circle cx="603.62" cy="411.88" r="1.15" fill="#535353"/>
<circle cx="605.57" cy="406.18" r="1.15" fill="#535353"/>
<circle cx="592.88" cy="418.58" r="1.15" fill="#535353"/>
<circle cx="581.95" cy="450.35" r="1.15" fill="#535353"/>
<circle cx="590.07" cy="413.10" r="1.15" fill="#535353"/>
<circle cx="567.90" cy="430.03" r="1.15" fill="#535353"/>
<circle cx="585.84" cy="431.78" r="1.15" fill="#535353"/>
<circle cx="598.86" cy="419.02" r="1.15" fill="#535353"/>
<circle cx="580.53" cy="430.35" r="1.15" fill="#535353"/>
<circle cx="606.06" cy="409.53" r="1.15" fill="#535353"/>
<circle cx="584.49" cy="415.88" r="1.15" fill="#535353"/>
<circle cx="632.41" cy="380.80" r="1.15" fill="#535353"/>
<circle cx="573.93" cy="433.76" r="1.15" fill="#535353"/>
<circle cx="564.60" cy="437.40" r="1.15" fill="#535353"/>
<circle cx="608.06" cy="425.34" r="1.15" fill="#535353"/>
<circle cx="569.51" cy="436.19" r="1.15" fill="#535353"/>
<circle cx="609.38" cy="421.53" r="1.15" fill="#535353"/>
<circle cx="593.36" cy="445.61" r="1.15" fill="#535353"/>
<circle cx="585.34" cy="427.39" r="1.15" fill="#535353"/>
<circle cx="600.80" cy="406.17" r="1.15" fill="#535353"/>
<circle cx="577.52" cy="452.42" r="1.15" fill="#535353"/>
<circle cx="606.21" cy="421.64" r="1.15" fill="#535353"/>
<circle cx="603.23" cy="412.17" r="1.15" fill="#535353"/>
<circle cx="608.88" cy="402.71" r="1.15" fill="#535353"/>
<circle cx="622.42" cy="421.45" r="1.15" fill="#535353"/>
<circle cx="596.94" cy="404.84" r="1.15" fill="#535353"/>
<circle cx="652.80" cy="374.05" r="1.15" fill="#535353"/>
<circle cx="634.19" cy="386.09" r="1.15" fill="#535353"/>
<circle cx="640.76" cy="392.22" r="1.15" fill="#535353"/>
<circle cx="637.26" cy="397.26" r="1.15" fill="#535353"/>
<circle cx="645.58" cy="397.70" r="1.15" fill="#535353"/>
<circle cx="629.81" cy="413.68" r="1.15" fill="#535353"/>
<circle cx="551.86" cy="411.27" r="1.15" fill="#535353"/>
<circle cx="561.28" cy="412.59" r="1.15" fill="#535353"/>
<circle cx="560.18" cy="400.33" r="1.15" fill="#535353"/>
<circle cx="552.52" cy="433.83" r="1.15" fill="#535353"/>
<circle cx="556.90" cy="433.83" r="1.15" fill="#535353"/>
<circle cx="554.27" cy="432.07" r="1.15" fill="#535353"/>
<circle cx="555.80" cy="456.16" r="1.15" fill="#535353"/>
<circle cx="558.65" cy="456.82" r="1.15" fill="#535353"/>
<circle cx="562.37" cy="455.28" r="1.15" fill="#535353"/>
<circle cx="556.90" cy="461.20" r="1.15" fill="#535353"/>
<circle cx="563.03" cy="459.01" r="1.15" fill="#535353"/>
<circle cx="567.41" cy="460.54" r="1.15" fill="#535353"/>
<circle cx="580.54" cy="459.66" r="1.15" fill="#535353"/>
<circle cx="585.36" cy="456.82" r="1.15" fill="#535353"/>
<circle cx="582.08" cy="452.44" r="1.15" fill="#535353"/>
<circle cx="552.52" cy="452.44" r="1.15" fill="#535353"/>
<circle cx="561.71" cy="450.69" r="1.15" fill="#535353"/>
<circle cx="570.03" cy="449.59" r="1.15" fill="#535353"/>
<circle cx="605.07" cy="448.06" r="1.15" fill="#535353"/>
<circle cx="604.63" cy="436.67" r="1.15" fill="#535353"/>
<circle cx="617.11" cy="429.45" r="1.15" fill="#535353"/>
<circle cx="571.79" cy="413.68" r="1.15" fill="#535353"/>
<circle cx="617.11" cy="392.66" r="1.15" fill="#535353"/>
<circle cx="620.83" cy="393.32" r="1.15" fill="#535353"/>
<circle cx="622.58" cy="395.07" r="1.15" fill="#535353"/>
<circle cx="593.46" cy="399.45" r="1.15" fill="#535353"/>
<circle cx="588.21" cy="403.61" r="1.15" fill="#535353"/>
<circle cx="582.51" cy="399.45" r="1.15" fill="#535353"/>
<polyline points="574.41,377.99 584.92,403.61" fill="none" stroke="#e9c12a" stroke-width="0.7"/>
<polyline points="559.09,388.94 579.89,406.89" fill="none" stroke="#e9c12a" stroke-width="0.7"/>
<polyline points="574.41,391.13 577.70,397.70" fill="none" stroke="#e9c12a" stroke-width="0.7"/>
<polyline points="587.11,395.07 587.11,406.46" fill="none" stroke="#e9c12a" stroke-width="0.7"/>
<polyline points="555.80,399.89 575.07,409.30" fill="none" stroke="#e9c12a" stroke-width="0.7"/>
<polyline points="592.37,387.84 602.44,400.54" fill="none" stroke="#e9c12a" stroke-width="0.7"/>
<polyline points="602.88,381.71 603.54,395.51" fill="none" stroke="#e9c12a" stroke-width="0.7"/>
<polyline points="603.97,375.80 604.63,391.13" fill="none" stroke="#e9c12a" stroke-width="0.7"/>
<polyline points="609.45,372.52 607.91,387.84" fill="none" stroke="#e9c12a" stroke-width="0.7"/>
<polyline points="627.40,384.56 628.06,395.51" fill="none" stroke="#e9c12a" stroke-width="0.7"/>
<polyline points="630.25,399.89 625.87,407.55" fill="none" stroke="#e9c12a" stroke-width="0.7"/>
<polyline points="605.07,427.26 589.74,415.21" fill="none" stroke="#e9c12a" stroke-width="0.7"/>
<polyline points="592.37,442.58 584.27,421.78" fill="none" stroke="#e9c12a" stroke-width="0.7"/>
<polyline points="555.80,442.58 567.84,422.88" fill="none" stroke="#e9c12a" stroke-width="0.7"/>
<circle cx="577.70" cy="398.14" r="1.15" fill="#d4221f"/>
<circle cx="575.07" cy="409.30" r="1.15" fill="#d4221f"/>
<circle cx="581.42" cy="409.74" r="1.15" fill="#d4221f"/>
<circle cx="587.11" cy="406.46" r="1.15" fill="#d4221f"/>
<circle cx="585.36" cy="406.89" r="1.15" fill="#d4221f"/>
<circle cx="602.44" cy="400.54" r="1.15" fill="#d4221f"/>
<circle cx="603.54" cy="395.95" r="1.15" fill="#d4221f"/>
<circle cx="602.22" cy="391.57" r="1.15" fill="#d4221f"/>
<circle cx="607.91" cy="388.28" r="1.15" fill="#d4221f"/>
<circle cx="589.74" cy="415.21" r="1.15" fill="#d4221f"/>
<circle cx="583.61" cy="420.69" r="1.15" fill="#d4221f"/>
<circle cx="568.50" cy="422.88" r="1.15" fill="#d4221f"/>
<circle cx="628.06" cy="395.95" r="1.15" fill="#5cb85c"/>
<circle cx="625.87" cy="407.99" r="1.15" fill="#5cb85c"/>
<text x="607.91" y="372.04" font-size="5.2" fill="#ff2a2a" stroke="#ff2a2a" stroke-width="0.12">HNRNPA2B1</text>
<text x="595.65" y="375.98" font-size="5.2" fill="#ff2a2a" stroke="#ff2a2a" stroke-width="0.12">SRSF1</text>
<text x="568.28" y="377.96" font-size="5.2" fill="#ff2a2a" stroke="#ff2a2a" stroke-width="0.12">SRSF8</text>
<text x="584.92" y="381.90" font-size="5.2" fill="#ff2a2a" stroke="#ff2a2a" stroke-width="0.12">HNRNPH1</text>
<text x="584.92" y="387.81" font-size="5.2" fill="#ff2a2a" stroke="#ff2a2a" stroke-width="0.12">RBM34</text>
<text x="550.98" y="388.47" font-size="5.2" fill="#ff2a2a" stroke="#ff2a2a" stroke-width="0.12">SF3A1</text>
<text x="566.75" y="390.66" font-size="5.2" fill="#ff2a2a" stroke="#ff2a2a" stroke-width="0.12">SF3B2</text>
<text x="580.98" y="394.60" font-size="5.2" fill="#ff2a2a" stroke="#ff2a2a" stroke-width="0.12">SF3B1</text>
<text x="555.36" y="404.23" font-size="5.2" fill="#ff2a2a" stroke="#ff2a2a" stroke-width="0.12">U2AF1</text>
<text x="603.32" y="430.73" font-size="5.2" fill="#ff2a2a" stroke="#ff2a2a" stroke-width="0.12">RBM26</text>
<text x="583.61" y="446.05" font-size="5.2" fill="#ff2a2a" stroke="#ff2a2a" stroke-width="0.12">HNRNPDL</text>
<text x="544.20" y="446.93" font-size="5.2" fill="#ff2a2a" stroke="#ff2a2a" stroke-width="0.12">HNRNPUL1</text>
<text x="625.90" y="383.02" font-size="5.2" fill="#9ad48a">HNRNPK2</text>
<text x="631.30" y="402.22" font-size="5.2" fill="#9ad48a">DDX36</text>
</g>
<g id="panelK">
<text x="8.50" y="525.89" font-size="12.7">K</text>
<rect x="83.00" y="545.60" width="108.13" height="7.00" fill="#ff1a0c" stroke="#0a0a0a" stroke-width="0.95"/>
<rect x="83.00" y="553.30" width="53.63" height="7.00" fill="#4c97f5" stroke="#0a0a0a" stroke-width="0.95"/>
<polyline points="79.90,552.90 83.00,552.90" fill="none" stroke="#000" stroke-width="0.8"/>
<text x="76.40" y="555.47" font-size="7.8" text-anchor="end">Spliceosome</text>
<rect x="83.00" y="565.90" width="48.40" height="7.00" fill="#ff1a0c" stroke="#0a0a0a" stroke-width="0.95"/>
<rect x="83.00" y="573.60" width="17.18" height="7.00" fill="#4c97f5" stroke="#0a0a0a" stroke-width="0.95"/>
<polyline points="79.90,573.20 83.00,573.20" fill="none" stroke="#000" stroke-width="0.8"/>
<text x="76.40" y="575.77" font-size="7.8" text-anchor="end">RNA splicing</text>
<rect x="83.00" y="586.60" width="70.46" height="7.00" fill="#ff1a0c" stroke="#0a0a0a" stroke-width="0.95"/>
<rect x="83.00" y="594.30" width="73.60" height="7.00" fill="#4c97f5" stroke="#0a0a0a" stroke-width="0.95"/>
<polyline points="79.90,593.90 83.00,593.90" fill="none" stroke="#000" stroke-width="0.8"/>
<text x="76.40" y="596.47" font-size="7.8" text-anchor="end">Translation</text>
<rect x="83.00" y="606.60" width="50.14" height="7.00" fill="#ff1a0c" stroke="#0a0a0a" stroke-width="0.95"/>
<rect x="83.00" y="614.30" width="51.45" height="7.00" fill="#4c97f5" stroke="#0a0a0a" stroke-width="0.95"/>
<polyline points="79.90,613.90 83.00,613.90" fill="none" stroke="#000" stroke-width="0.8"/>
<text x="76.40" y="616.47" font-size="7.8" text-anchor="end">rRNA processing</text>
<rect x="83.00" y="626.90" width="125.13" height="7.00" fill="#ff1a0c" stroke="#0a0a0a" stroke-width="0.95"/>
<rect x="83.00" y="634.60" width="120.95" height="7.00" fill="#4c97f5" stroke="#0a0a0a" stroke-width="0.95"/>
<polyline points="79.90,634.20 83.00,634.20" fill="none" stroke="#000" stroke-width="0.8"/>
<text x="76.40" y="636.77" font-size="7.8" text-anchor="end">Cytoplasmic translation</text>
<polyline points="83.00,541.00 83.00,645.60 230.50,645.60" fill="none" stroke="#000" stroke-width="1.1"/>
<polyline points="83.00,645.60 83.00,648.20" fill="none" stroke="#000" stroke-width="0.8"/>
<text x="83.00" y="656.71" font-size="7.6" text-anchor="middle">0</text>
<polyline points="126.60,645.60 126.60,648.20" fill="none" stroke="#000" stroke-width="0.8"/>
<text x="126.60" y="656.71" font-size="7.6" text-anchor="middle">5</text>
<polyline points="170.20,645.60 170.20,648.20" fill="none" stroke="#000" stroke-width="0.8"/>
<text x="170.20" y="656.71" font-size="7.6" text-anchor="middle">10</text>
<polyline points="213.80,645.60 213.80,648.20" fill="none" stroke="#000" stroke-width="0.8"/>
<text x="213.80" y="656.71" font-size="7.6" text-anchor="middle">15</text>
<text x="149.60" y="666.54" font-size="7.7" text-anchor="middle">Enrichment score</text>
<rect x="45.50" y="660.80" width="7.10" height="3.60" fill="#ff1a0c" stroke="#111" stroke-width="0.8"/>
<text x="56.00" y="665.11" font-size="7.6">K234R</text>
<rect x="45.50" y="669.50" width="7.10" height="3.60" fill="#4c97f5" stroke="#111" stroke-width="0.8"/>
<text x="56.00" y="673.81" font-size="7.6">K234M</text>
</g>
<g id="panelL">
<text x="236.50" y="529.39" font-size="12.7">L</text>
<text x="374.40" y="525.36" font-size="7.76" text-anchor="middle">Normal DDX1 Enriched vs. Methylated</text>
<text x="368.40" y="536.56" font-size="7.76" text-anchor="middle">Top Biological Process</text>
<rect x="312.30" y="547.20" width="58.61" height="11.40" fill="#ff1a0c" stroke="#0a0a0a" stroke-width="1.1"/>
<polyline points="307.80,552.90 312.30,552.90" fill="none" stroke="#000" stroke-width="1.1"/>
<text x="303.60" y="554.17" font-size="7.8" text-anchor="end">Translation</text>
<rect x="312.30" y="565.30" width="58.61" height="11.40" fill="#ff1a0c" stroke="#0a0a0a" stroke-width="1.1"/>
<polyline points="307.80,571.00 312.30,571.00" fill="none" stroke="#000" stroke-width="1.1"/>
<text x="303.60" y="573.07" font-size="7.8" text-anchor="end">Cytoplasmic translation</text>
<rect x="312.30" y="583.60" width="138.58" height="11.40" fill="#ff1a0c" stroke="#0a0a0a" stroke-width="1.1"/>
<polyline points="307.80,589.30 312.30,589.30" fill="none" stroke="#000" stroke-width="1.1"/>
<text x="303.60" y="591.37" font-size="7.8" text-anchor="end">Spliceosome</text>
<rect x="312.30" y="602.40" width="128.15" height="11.40" fill="#ff1a0c" stroke="#0a0a0a" stroke-width="1.1"/>
<polyline points="307.80,608.10 312.30,608.10" fill="none" stroke="#000" stroke-width="1.1"/>
<text x="303.60" y="609.17" font-size="7.8" text-anchor="end">RNA splicing</text>
<rect x="312.30" y="620.80" width="58.61" height="11.40" fill="#ff1a0c" stroke="#0a0a0a" stroke-width="1.1"/>
<polyline points="307.80,626.50 312.30,626.50" fill="none" stroke="#000" stroke-width="1.1"/>
<text x="303.60" y="627.67" font-size="7.8" text-anchor="end">rRNA processing</text>
<rect x="312.30" y="639.20" width="88.66" height="11.40" fill="#ff1a0c" stroke="#0a0a0a" stroke-width="1.1"/>
<polyline points="307.80,644.90 312.30,644.90" fill="none" stroke="#000" stroke-width="1.1"/>
<text x="303.60" y="646.27" font-size="7.8" text-anchor="end">Protein stabilization</text>
<polyline points="312.30,540.30 312.30,658.60 461.30,658.60" fill="none" stroke="#000" stroke-width="1.25"/>
<polyline points="312.30,658.60 312.30,661.40" fill="none" stroke="#000" stroke-width="1.1"/>
<text x="312.30" y="668.34" font-size="7.4" text-anchor="middle">0</text>
<polyline points="361.97,658.60 361.97,661.40" fill="none" stroke="#000" stroke-width="1.1"/>
<text x="361.97" y="668.34" font-size="7.4" text-anchor="middle">1</text>
<polyline points="411.64,658.60 411.64,661.40" fill="none" stroke="#000" stroke-width="1.1"/>
<text x="411.64" y="668.34" font-size="7.4" text-anchor="middle">2</text>
<polyline points="461.31,658.60 461.31,661.40" fill="none" stroke="#000" stroke-width="1.1"/>
<text x="461.31" y="668.34" font-size="7.4" text-anchor="middle">3</text>
<text x="382.4" y="675.91" font-size="7.6" text-anchor="middle">-log<tspan font-size="5.2" dy="1.5">10</tspan><tspan dy="-1.5"> (Adj. </tspan><tspan font-style="italic">p</tspan>-value)</text>
</g>
<g id="panelM">
<text x="471.80" y="529.79" font-size="12.7">M</text>
<text x="605.20" y="526.26" font-size="7.76" text-anchor="middle">Normal DDX1 Enriched vs. Methylated</text>
<text x="606.20" y="537.06" font-size="7.76" text-anchor="middle">Top KEGG Enrichment</text>
<rect x="547.40" y="548.50" width="78.76" height="11.40" fill="#ff1a0c" stroke="#0a0a0a" stroke-width="1.1"/>
<polyline points="543.00,554.00 547.40,554.00" fill="none" stroke="#000" stroke-width="1.1"/>
<text x="539.50" y="556.17" font-size="7.8" text-anchor="end">Ribosome</text>
<rect x="547.40" y="566.40" width="122.76" height="11.40" fill="#ff1a0c" stroke="#0a0a0a" stroke-width="1.1"/>
<polyline points="543.00,571.90 547.40,571.90" fill="none" stroke="#000" stroke-width="1.1"/>
<text x="539.50" y="574.07" font-size="7.8" text-anchor="end">Spliceosome</text>
<rect x="547.40" y="584.70" width="56.32" height="11.40" fill="#ff1a0c" stroke="#0a0a0a" stroke-width="1.1"/>
<polyline points="543.00,590.20 547.40,590.20" fill="none" stroke="#000" stroke-width="1.1"/>
<text x="539.50" y="592.37" font-size="7.8" text-anchor="end">Endoplasmic reticulum</text>
<rect x="547.40" y="602.40" width="65.56" height="11.40" fill="#ff1a0c" stroke="#0a0a0a" stroke-width="1.1"/>
<polyline points="543.00,607.90 547.40,607.90" fill="none" stroke="#000" stroke-width="1.1"/>
<text x="539.50" y="610.07" font-size="7.8" text-anchor="end">Nucleocytoplasmic transport</text>
<rect x="547.40" y="620.50" width="87.56" height="11.40" fill="#ff1a0c" stroke="#0a0a0a" stroke-width="1.1"/>
<polyline points="543.00,626.00 547.40,626.00" fill="none" stroke="#000" stroke-width="1.1"/>
<text x="539.50" y="628.17" font-size="7.8" text-anchor="end">Proteasome</text>
<rect x="547.40" y="638.50" width="52.36" height="11.40" fill="#ff1a0c" stroke="#0a0a0a" stroke-width="1.1"/>
<polyline points="543.00,644.00 547.40,644.00" fill="none" stroke="#000" stroke-width="1.1"/>
<text x="539.50" y="646.17" font-size="7.8" text-anchor="end">tRNA biosynthesis</text>
<polyline points="547.40,541.00 547.40,656.60 680.10,656.60" fill="none" stroke="#000" stroke-width="1.25"/>
<polyline points="547.40,656.60 547.40,659.40" fill="none" stroke="#000" stroke-width="1.1"/>
<text x="547.40" y="668.34" font-size="7.4" text-anchor="middle">0</text>
<polyline points="591.40,656.60 591.40,659.40" fill="none" stroke="#000" stroke-width="1.1"/>
<text x="591.40" y="668.34" font-size="7.4" text-anchor="middle">1</text>
<polyline points="635.40,656.60 635.40,659.40" fill="none" stroke="#000" stroke-width="1.1"/>
<text x="635.40" y="668.34" font-size="7.4" text-anchor="middle">2</text>
<polyline points="679.40,656.60 679.40,659.40" fill="none" stroke="#000" stroke-width="1.1"/>
<text x="679.40" y="668.34" font-size="7.4" text-anchor="middle">3</text>
<text x="614.4" y="677.61" font-size="7.6" text-anchor="middle">-log<tspan font-size="5.2" dy="1.5">10</tspan><tspan dy="-1.5"> (Adj. </tspan><tspan font-style="italic">p</tspan>-value)</text>
</g>
</svg>
</body></html>
